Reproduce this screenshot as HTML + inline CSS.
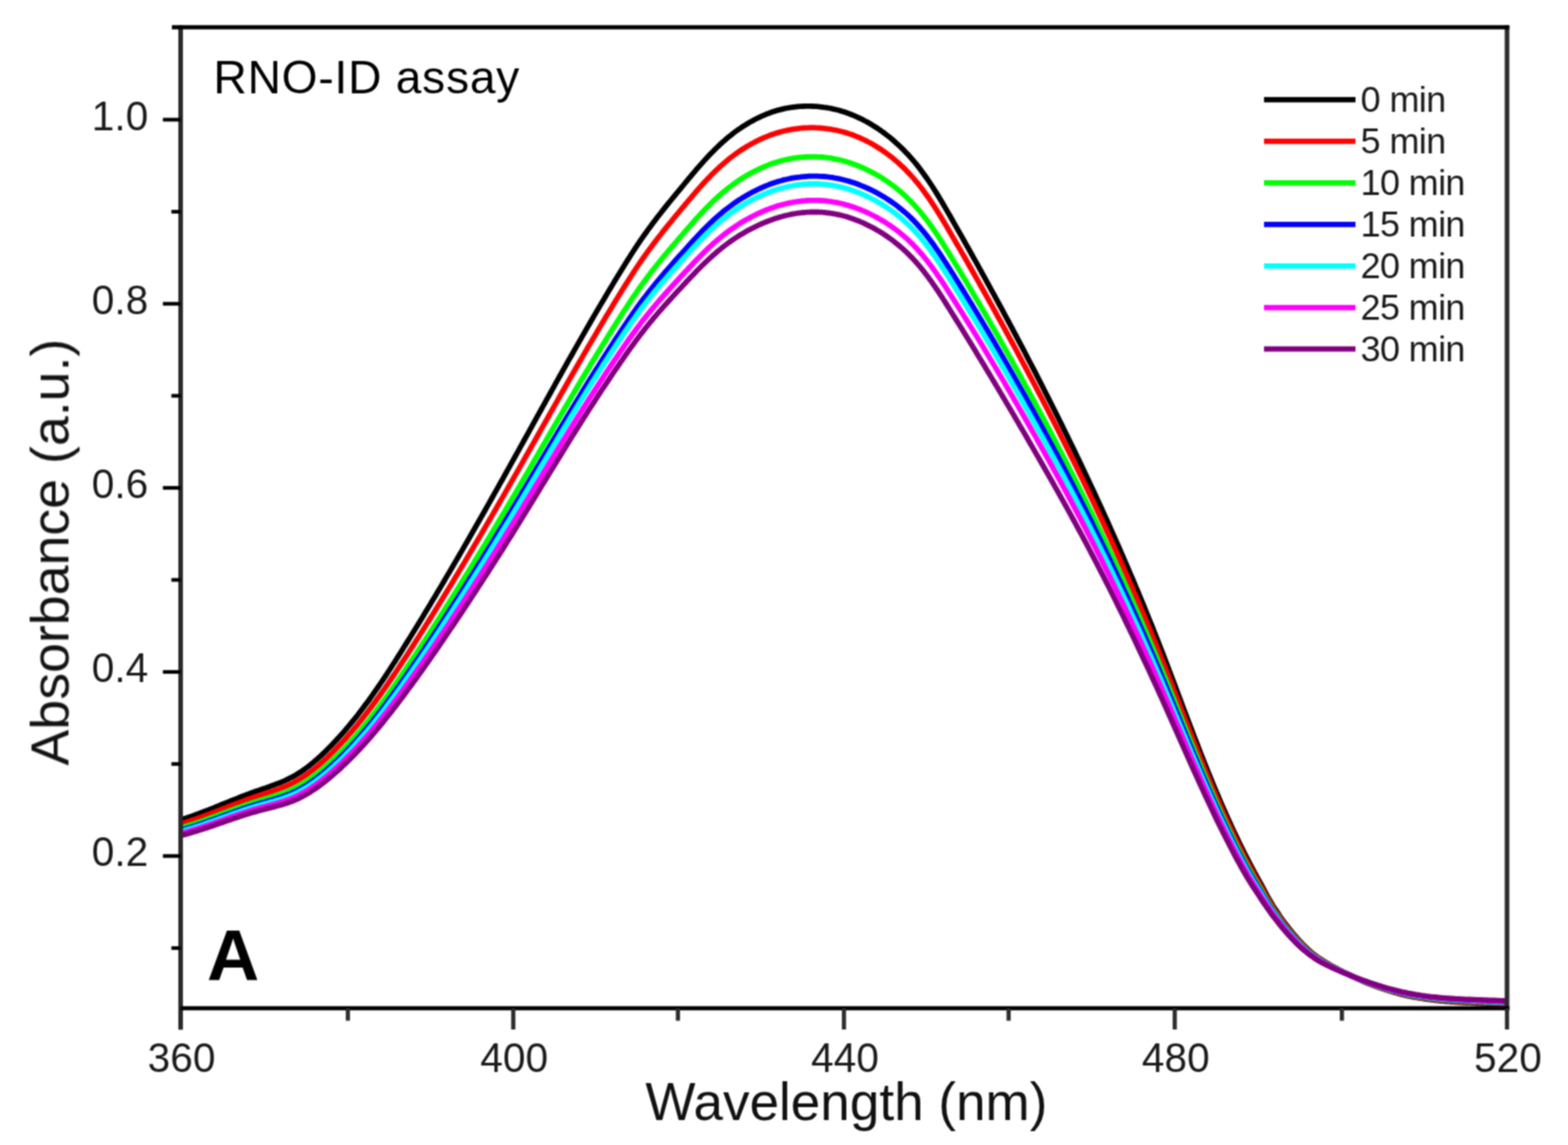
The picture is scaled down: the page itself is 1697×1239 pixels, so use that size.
<!DOCTYPE html>
<html><head><meta charset="utf-8"><title>RNO-ID assay</title><style>html,body{margin:0;padding:0;background:#fff;width:1697px;height:1239px;overflow:hidden}svg{display:block}</style></head><body>
<svg width="1697" height="1239" viewBox="0 0 1697 1239">
<rect width="1697" height="1239" fill="#ffffff"/>
<defs><filter id="soft" x="0" y="0" width="100%" height="100%" filterUnits="userSpaceOnUse" color-interpolation-filters="sRGB"><feConvolveMatrix order="3" kernelMatrix="1 2 1 2 4 2 1 2 1" divisor="16" edgeMode="duplicate"/></filter></defs>
<g filter="url(#soft)">
<defs><clipPath id="pc"><rect x="195.5" y="29.6" width="1435.5" height="1061.4"/></clipPath></defs>
<g clip-path="url(#pc)" fill="none" stroke-linejoin="round" stroke-linecap="butt">
<path d="M195.5,887.1 L197.5,886.6 L199.5,885.9 L201.5,885.3 L203.5,884.6 L205.5,883.9 L207.5,883.2 L209.5,882.5 L211.5,881.8 L213.5,881.0 L215.5,880.3 L217.5,879.5 L219.5,878.8 L221.5,878.0 L223.5,877.2 L225.5,876.5 L227.5,875.7 L229.5,874.9 L231.5,874.1 L233.5,873.3 L235.5,872.5 L237.5,871.6 L239.5,870.8 L241.5,870.0 L243.5,869.2 L245.5,868.4 L247.5,867.6 L249.5,866.8 L251.5,866.0 L253.5,865.2 L255.5,864.4 L257.5,863.6 L259.5,862.8 L261.5,862.0 L263.5,861.2 L265.5,860.5 L267.5,859.7 L269.5,859.0 L271.5,858.2 L273.5,857.5 L275.5,856.8 L277.5,856.1 L279.5,855.4 L281.5,854.7 L283.5,854.0 L285.5,853.3 L287.5,852.7 L289.5,852.0 L291.5,851.3 L293.5,850.5 L295.5,849.8 L297.5,849.1 L299.5,848.3 L301.5,847.6 L303.5,846.8 L305.5,845.9 L307.5,845.1 L309.5,844.2 L311.5,843.2 L313.5,842.2 L315.5,841.2 L317.5,840.1 L319.5,839.0 L321.5,837.8 L323.5,836.5 L325.5,835.2 L327.5,833.9 L329.5,832.5 L331.5,831.0 L333.5,829.5 L335.5,827.9 L337.5,826.3 L339.5,824.7 L341.5,822.9 L343.5,821.2 L345.5,819.4 L347.5,817.6 L349.5,815.7 L351.5,813.8 L353.5,811.8 L355.5,809.8 L357.5,807.8 L359.5,805.7 L361.5,803.6 L363.5,801.5 L365.5,799.3 L367.5,797.1 L369.5,794.8 L371.5,792.6 L373.5,790.3 L375.5,787.9 L377.5,785.5 L379.5,783.1 L381.5,780.7 L383.5,778.2 L385.5,775.7 L387.5,773.2 L389.5,770.6 L391.5,768.0 L393.5,765.3 L395.5,762.6 L397.5,759.9 L399.5,757.2 L401.5,754.4 L403.5,751.6 L405.5,748.7 L407.5,745.9 L409.5,743.0 L411.5,740.0 L413.5,737.1 L415.5,734.1 L417.5,731.1 L419.5,728.0 L421.5,725.0 L423.5,721.9 L425.5,718.8 L427.5,715.7 L429.5,712.5 L431.5,709.4 L433.5,706.2 L435.5,703.0 L437.5,699.8 L439.5,696.6 L441.5,693.4 L443.5,690.2 L445.5,687.0 L447.5,683.7 L449.5,680.5 L451.5,677.2 L453.5,673.9 L455.5,670.7 L457.5,667.4 L459.5,664.1 L461.5,660.8 L463.5,657.5 L465.5,654.2 L467.5,650.8 L469.5,647.5 L471.5,644.2 L473.5,640.8 L475.5,637.5 L477.5,634.1 L479.5,630.7 L481.5,627.3 L483.5,623.9 L485.5,620.6 L487.5,617.1 L489.5,613.7 L491.5,610.3 L493.5,606.9 L495.5,603.5 L497.5,600.0 L499.5,596.6 L501.5,593.1 L503.5,589.6 L505.5,586.2 L507.5,582.7 L509.5,579.2 L511.5,575.7 L513.5,572.2 L515.5,568.7 L517.5,565.2 L519.5,561.7 L521.5,558.2 L523.5,554.7 L525.5,551.2 L527.5,547.6 L529.5,544.1 L531.5,540.5 L533.5,537.0 L535.5,533.4 L537.5,529.9 L539.5,526.3 L541.5,522.7 L543.5,519.2 L545.5,515.6 L547.5,512.0 L549.5,508.4 L551.5,504.8 L553.5,501.2 L555.5,497.6 L557.5,494.0 L559.5,490.4 L561.5,486.8 L563.5,483.2 L565.5,479.6 L567.5,476.0 L569.5,472.4 L571.5,468.8 L573.5,465.2 L575.5,461.6 L577.5,457.9 L579.5,454.3 L581.5,450.7 L583.5,447.1 L585.5,443.5 L587.5,439.9 L589.5,436.3 L591.5,432.7 L593.5,429.1 L595.5,425.5 L597.5,421.9 L599.5,418.3 L601.5,414.7 L603.5,411.1 L605.5,407.5 L607.5,404.0 L609.5,400.4 L611.5,396.8 L613.5,393.3 L615.5,389.7 L617.5,386.2 L619.5,382.7 L621.5,379.1 L623.5,375.6 L625.5,372.1 L627.5,368.6 L629.5,365.1 L631.5,361.6 L633.5,358.1 L635.5,354.6 L637.5,351.2 L639.5,347.7 L641.5,344.3 L643.5,340.9 L645.5,337.4 L647.5,334.0 L649.5,330.6 L651.5,327.2 L653.5,323.9 L655.5,320.5 L657.5,317.1 L659.5,313.8 L661.5,310.5 L663.5,307.1 L665.5,303.8 L667.5,300.5 L669.5,297.2 L671.5,294.0 L673.5,290.7 L675.5,287.5 L677.5,284.3 L679.5,281.1 L681.5,278.0 L683.5,274.8 L685.5,271.7 L687.5,268.7 L689.5,265.7 L691.5,262.7 L693.5,259.7 L695.5,256.8 L697.5,254.0 L699.5,251.2 L701.5,248.4 L703.5,245.7 L705.5,243.0 L707.5,240.3 L709.5,237.7 L711.5,235.1 L713.5,232.5 L715.5,229.9 L717.5,227.4 L719.5,224.9 L721.5,222.4 L723.5,219.9 L725.5,217.5 L727.5,215.0 L729.5,212.6 L731.5,210.2 L733.5,207.7 L735.5,205.3 L737.5,202.9 L739.5,200.5 L741.5,198.0 L743.5,195.6 L745.5,193.2 L747.5,190.8 L749.5,188.4 L751.5,186.1 L753.5,183.7 L755.5,181.4 L757.5,179.1 L759.5,176.8 L761.5,174.6 L763.5,172.4 L765.5,170.2 L767.5,168.1 L769.5,166.0 L771.5,164.0 L773.5,161.9 L775.5,160.0 L777.5,158.1 L779.5,156.2 L781.5,154.3 L783.5,152.6 L785.5,150.8 L787.5,149.1 L789.5,147.5 L791.5,145.9 L793.5,144.3 L795.5,142.8 L797.5,141.3 L799.5,139.9 L801.5,138.6 L803.5,137.2 L805.5,135.9 L807.5,134.7 L809.5,133.5 L811.5,132.3 L813.5,131.2 L815.5,130.1 L817.5,129.0 L819.5,128.0 L821.5,127.1 L823.5,126.1 L825.5,125.2 L827.5,124.4 L829.5,123.5 L831.5,122.8 L833.5,122.0 L835.5,121.3 L837.5,120.6 L839.5,120.0 L841.5,119.4 L843.5,118.9 L845.5,118.4 L847.5,117.9 L849.5,117.4 L851.5,117.0 L853.5,116.7 L855.5,116.3 L857.5,116.0 L859.5,115.8 L861.5,115.5 L863.5,115.3 L865.5,115.2 L867.5,115.1 L869.5,115.0 L871.5,114.9 L873.5,114.9 L875.5,114.9 L877.5,114.9 L879.5,115.0 L881.5,115.1 L883.5,115.2 L885.5,115.4 L887.5,115.6 L889.5,115.8 L891.5,116.1 L893.5,116.3 L895.5,116.7 L897.5,117.0 L899.5,117.4 L901.5,117.9 L903.5,118.3 L905.5,118.8 L907.5,119.3 L909.5,119.9 L911.5,120.5 L913.5,121.1 L915.5,121.8 L917.5,122.5 L919.5,123.2 L921.5,124.0 L923.5,124.8 L925.5,125.7 L927.5,126.6 L929.5,127.5 L931.5,128.4 L933.5,129.4 L935.5,130.5 L937.5,131.5 L939.5,132.6 L941.5,133.8 L943.5,135.0 L945.5,136.2 L947.5,137.5 L949.5,138.8 L951.5,140.1 L953.5,141.5 L955.5,143.0 L957.5,144.4 L959.5,146.0 L961.5,147.5 L963.5,149.1 L965.5,150.8 L967.5,152.5 L969.5,154.3 L971.5,156.1 L973.5,158.0 L975.5,159.9 L977.5,161.8 L979.5,163.9 L981.5,166.0 L983.5,168.1 L985.5,170.4 L987.5,172.6 L989.5,175.0 L991.5,177.4 L993.5,179.9 L995.5,182.5 L997.5,185.2 L999.5,187.9 L1001.5,190.7 L1003.5,193.5 L1005.5,196.5 L1007.5,199.5 L1009.5,202.5 L1011.5,205.7 L1013.5,208.9 L1015.5,212.1 L1017.5,215.4 L1019.5,218.8 L1021.5,222.2 L1023.5,225.6 L1025.5,229.1 L1027.5,232.5 L1029.5,236.0 L1031.5,239.6 L1033.5,243.1 L1035.5,246.6 L1037.5,250.1 L1039.5,253.6 L1041.5,257.2 L1043.5,260.7 L1045.5,264.3 L1047.5,267.8 L1049.5,271.4 L1051.5,275.0 L1053.5,278.6 L1055.5,282.1 L1057.5,285.7 L1059.5,289.3 L1061.5,292.9 L1063.5,296.6 L1065.5,300.2 L1067.5,303.8 L1069.5,307.5 L1071.5,311.1 L1073.5,314.8 L1075.5,318.4 L1077.5,322.1 L1079.5,325.8 L1081.5,329.5 L1083.5,333.1 L1085.5,336.9 L1087.5,340.6 L1089.5,344.3 L1091.5,348.0 L1093.5,351.8 L1095.5,355.5 L1097.5,359.3 L1099.5,363.0 L1101.5,366.8 L1103.5,370.6 L1105.5,374.4 L1107.5,378.2 L1109.5,382.0 L1111.5,385.8 L1113.5,389.7 L1115.5,393.5 L1117.5,397.4 L1119.5,401.2 L1121.5,405.1 L1123.5,409.0 L1125.5,412.9 L1127.5,416.8 L1129.5,420.7 L1131.5,424.7 L1133.5,428.6 L1135.5,432.6 L1137.5,436.5 L1139.5,440.5 L1141.5,444.5 L1143.5,448.5 L1145.5,452.5 L1147.5,456.6 L1149.5,460.6 L1151.5,464.7 L1153.5,468.7 L1155.5,472.8 L1157.5,476.9 L1159.5,481.0 L1161.5,485.1 L1163.5,489.3 L1165.5,493.4 L1167.5,497.6 L1169.5,501.8 L1171.5,506.0 L1173.5,510.2 L1175.5,514.4 L1177.5,518.7 L1179.5,522.9 L1181.5,527.2 L1183.5,531.5 L1185.5,535.8 L1187.5,540.1 L1189.5,544.5 L1191.5,548.8 L1193.5,553.2 L1195.5,557.6 L1197.5,562.0 L1199.5,566.5 L1201.5,570.9 L1203.5,575.4 L1205.5,579.9 L1207.5,584.4 L1209.5,588.9 L1211.5,593.5 L1213.5,598.1 L1215.5,602.7 L1217.5,607.3 L1219.5,611.9 L1221.5,616.6 L1223.5,621.3 L1225.5,626.0 L1227.5,630.7 L1229.5,635.5 L1231.5,640.2 L1233.5,645.1 L1235.5,649.9 L1237.5,654.7 L1239.5,659.6 L1241.5,664.5 L1243.5,669.5 L1245.5,674.4 L1247.5,679.4 L1249.5,684.5 L1251.5,689.5 L1253.5,694.6 L1255.5,699.7 L1257.5,704.9 L1259.5,710.1 L1261.5,715.3 L1263.5,720.5 L1265.5,725.8 L1267.5,731.0 L1269.5,736.3 L1271.5,741.6 L1273.5,746.9 L1275.5,752.2 L1277.5,757.5 L1279.5,762.9 L1281.5,768.2 L1283.5,773.5 L1285.5,778.7 L1287.5,784.0 L1289.5,789.3 L1291.5,794.5 L1293.5,799.7 L1295.5,804.9 L1297.5,810.1 L1299.5,815.2 L1301.5,820.3 L1303.5,825.3 L1305.5,830.3 L1307.5,835.3 L1309.5,840.2 L1311.5,845.1 L1313.5,850.0 L1315.5,854.8 L1317.5,859.5 L1319.5,864.2 L1321.5,868.8 L1323.5,873.4 L1325.5,878.0 L1327.5,882.5 L1329.5,886.9 L1331.5,891.3 L1333.5,895.6 L1335.5,899.9 L1337.5,904.1 L1339.5,908.3 L1341.5,912.4 L1343.5,916.5 L1345.5,920.5 L1347.5,924.5 L1349.5,928.4 L1351.5,932.3 L1353.5,936.1 L1355.5,939.8 L1357.5,943.6 L1359.5,947.2 L1361.5,950.8 L1363.5,954.4 L1365.5,958.0 L1367.5,961.9 L1369.5,965.7 L1371.5,969.4 L1373.5,972.9 L1375.5,976.3 L1377.5,979.7 L1379.5,982.9 L1381.5,985.6 L1383.5,988.6 L1385.5,992.0 L1387.5,994.7 L1389.5,997.4 L1391.5,1000.0 L1393.5,1002.6 L1395.5,1005.2 L1397.5,1007.6 L1399.5,1010.1 L1401.5,1012.4 L1403.5,1014.7 L1405.5,1016.9 L1407.5,1019.1 L1409.5,1021.2 L1411.5,1023.2 L1413.5,1025.2 L1415.5,1027.1 L1417.5,1028.9 L1419.5,1030.7 L1421.5,1032.3 L1423.5,1033.8 L1425.5,1035.3 L1427.5,1036.7 L1429.5,1038.0 L1431.5,1039.3 L1433.5,1040.6 L1435.5,1041.8 L1437.5,1042.9 L1439.5,1044.1 L1441.5,1045.2 L1443.5,1046.3 L1445.5,1047.4 L1447.5,1048.4 L1449.5,1049.5 L1451.5,1050.5 L1453.5,1051.6 L1455.5,1052.6 L1457.5,1053.5 L1459.5,1054.5 L1461.5,1055.5 L1463.5,1056.5 L1465.5,1057.4 L1467.5,1058.4 L1469.5,1059.3 L1471.5,1060.2 L1473.5,1061.1 L1475.5,1062.0 L1477.5,1062.9 L1479.5,1063.8 L1481.5,1064.6 L1483.5,1065.3 L1485.5,1066.1 L1487.5,1066.8 L1489.5,1067.5 L1491.5,1068.2 L1493.5,1068.9 L1495.5,1069.6 L1497.5,1070.3 L1499.5,1070.9 L1501.5,1071.5 L1503.5,1072.2 L1505.5,1072.8 L1507.5,1073.4 L1509.5,1074.0 L1511.5,1074.5 L1513.5,1075.1 L1515.5,1075.6 L1517.5,1076.2 L1519.5,1076.7 L1521.5,1077.2 L1523.5,1077.6 L1525.5,1078.0 L1527.5,1078.4 L1529.5,1078.8 L1531.5,1079.2 L1533.5,1079.5 L1535.5,1079.8 L1537.5,1080.2 L1539.5,1080.5 L1541.5,1080.8 L1543.5,1081.1 L1545.5,1081.3 L1547.5,1081.6 L1549.5,1081.9 L1551.5,1082.1 L1553.5,1082.3 L1555.5,1082.5 L1557.5,1082.8 L1559.5,1083.0 L1561.5,1083.1 L1563.5,1083.3 L1565.5,1083.5 L1567.5,1083.7 L1569.5,1083.8 L1571.5,1084.0 L1573.5,1084.1 L1575.5,1084.3 L1577.5,1084.4 L1579.5,1084.5 L1581.5,1084.6 L1583.5,1084.8 L1585.5,1084.9 L1587.5,1085.0 L1589.5,1085.1 L1591.5,1085.2 L1593.5,1085.3 L1595.5,1085.4 L1597.5,1085.5 L1599.5,1085.6 L1601.5,1085.7 L1603.5,1085.8 L1605.5,1085.8 L1607.5,1085.9 L1609.5,1086.0 L1611.5,1086.1 L1613.5,1086.2 L1615.5,1086.3 L1617.5,1086.4 L1619.5,1086.5 L1621.5,1086.6 L1623.5,1086.7 L1625.5,1086.8 L1627.5,1086.9 L1629.5,1087.1" stroke="#000000" stroke-width="5.8"/>
<path d="M195.5,891.5 L197.5,891.0 L199.5,890.4 L201.5,889.8 L203.5,889.1 L205.5,888.5 L207.5,887.8 L209.5,887.1 L211.5,886.4 L213.5,885.7 L215.5,885.0 L217.5,884.3 L219.5,883.6 L221.5,882.8 L223.5,882.1 L225.5,881.3 L227.5,880.6 L229.5,879.8 L231.5,879.0 L233.5,878.3 L235.5,877.5 L237.5,876.7 L239.5,875.9 L241.5,875.1 L243.5,874.4 L245.5,873.6 L247.5,872.8 L249.5,872.0 L251.5,871.3 L253.5,870.5 L255.5,869.7 L257.5,869.0 L259.5,868.2 L261.5,867.5 L263.5,866.7 L265.5,866.0 L267.5,865.3 L269.5,864.5 L271.5,863.8 L273.5,863.2 L275.5,862.5 L277.5,861.8 L279.5,861.2 L281.5,860.5 L283.5,859.9 L285.5,859.2 L287.5,858.6 L289.5,857.9 L291.5,857.3 L293.5,856.6 L295.5,856.0 L297.5,855.3 L299.5,854.6 L301.5,853.9 L303.5,853.1 L305.5,852.3 L307.5,851.6 L309.5,850.7 L311.5,849.9 L313.5,848.9 L315.5,848.0 L317.5,847.0 L319.5,845.9 L321.5,844.8 L323.5,843.6 L325.5,842.4 L327.5,841.1 L329.5,839.8 L331.5,838.4 L333.5,837.0 L335.5,835.5 L337.5,834.0 L339.5,832.4 L341.5,830.8 L343.5,829.2 L345.5,827.5 L347.5,825.7 L349.5,824.0 L351.5,822.1 L353.5,820.3 L355.5,818.4 L357.5,816.4 L359.5,814.5 L361.5,812.4 L363.5,810.4 L365.5,808.3 L367.5,806.2 L369.5,804.1 L371.5,801.9 L373.5,799.7 L375.5,797.5 L377.5,795.2 L379.5,792.9 L381.5,790.6 L383.5,788.2 L385.5,785.8 L387.5,783.4 L389.5,780.9 L391.5,778.4 L393.5,775.9 L395.5,773.3 L397.5,770.7 L399.5,768.1 L401.5,765.5 L403.5,762.8 L405.5,760.1 L407.5,757.3 L409.5,754.6 L411.5,751.8 L413.5,748.9 L415.5,746.1 L417.5,743.2 L419.5,740.3 L421.5,737.4 L423.5,734.4 L425.5,731.5 L427.5,728.5 L429.5,725.5 L431.5,722.5 L433.5,719.4 L435.5,716.4 L437.5,713.3 L439.5,710.3 L441.5,707.2 L443.5,704.1 L445.5,701.0 L447.5,697.9 L449.5,694.7 L451.5,691.6 L453.5,688.5 L455.5,685.3 L457.5,682.2 L459.5,679.0 L461.5,675.8 L463.5,672.6 L465.5,669.4 L467.5,666.2 L469.5,663.0 L471.5,659.8 L473.5,656.5 L475.5,653.3 L477.5,650.0 L479.5,646.8 L481.5,643.5 L483.5,640.2 L485.5,637.0 L487.5,633.7 L489.5,630.4 L491.5,627.1 L493.5,623.8 L495.5,620.5 L497.5,617.1 L499.5,613.8 L501.5,610.5 L503.5,607.1 L505.5,603.8 L507.5,600.4 L509.5,597.0 L511.5,593.7 L513.5,590.3 L515.5,586.9 L517.5,583.5 L519.5,580.1 L521.5,576.7 L523.5,573.3 L525.5,569.9 L527.5,566.5 L529.5,563.0 L531.5,559.6 L533.5,556.2 L535.5,552.7 L537.5,549.3 L539.5,545.8 L541.5,542.3 L543.5,538.9 L545.5,535.4 L547.5,531.9 L549.5,528.4 L551.5,524.9 L553.5,521.4 L555.5,517.9 L557.5,514.4 L559.5,510.9 L561.5,507.4 L563.5,503.9 L565.5,500.3 L567.5,496.8 L569.5,493.3 L571.5,489.7 L573.5,486.2 L575.5,482.7 L577.5,479.1 L579.5,475.6 L581.5,472.0 L583.5,468.5 L585.5,464.9 L587.5,461.4 L589.5,457.9 L591.5,454.3 L593.5,450.8 L595.5,447.2 L597.5,443.7 L599.5,440.1 L601.5,436.6 L603.5,433.1 L605.5,429.5 L607.5,426.0 L609.5,422.5 L611.5,419.0 L613.5,415.5 L615.5,412.0 L617.5,408.5 L619.5,405.0 L621.5,401.5 L623.5,398.0 L625.5,394.5 L627.5,391.0 L629.5,387.6 L631.5,384.1 L633.5,380.7 L635.5,377.2 L637.5,373.8 L639.5,370.4 L641.5,367.0 L643.5,363.6 L645.5,360.2 L647.5,356.8 L649.5,353.4 L651.5,350.0 L653.5,346.7 L655.5,343.3 L657.5,340.0 L659.5,336.7 L661.5,333.4 L663.5,330.1 L665.5,326.8 L667.5,323.5 L669.5,320.3 L671.5,317.0 L673.5,313.8 L675.5,310.6 L677.5,307.4 L679.5,304.2 L681.5,301.1 L683.5,298.0 L685.5,294.9 L687.5,291.8 L689.5,288.8 L691.5,285.9 L693.5,282.9 L695.5,280.0 L697.5,277.2 L699.5,274.4 L701.5,271.6 L703.5,268.9 L705.5,266.2 L707.5,263.5 L709.5,260.9 L711.5,258.3 L713.5,255.7 L715.5,253.2 L717.5,250.6 L719.5,248.1 L721.5,245.6 L723.5,243.2 L725.5,240.7 L727.5,238.3 L729.5,235.8 L731.5,233.4 L733.5,231.0 L735.5,228.6 L737.5,226.2 L739.5,223.8 L741.5,221.4 L743.5,219.0 L745.5,216.6 L747.5,214.3 L749.5,211.9 L751.5,209.6 L753.5,207.2 L755.5,205.0 L757.5,202.7 L759.5,200.5 L761.5,198.2 L763.5,196.1 L765.5,193.9 L767.5,191.9 L769.5,189.8 L771.5,187.8 L773.5,185.8 L775.5,183.9 L777.5,182.0 L779.5,180.2 L781.5,178.4 L783.5,176.6 L785.5,174.9 L787.5,173.2 L789.5,171.6 L791.5,170.0 L793.5,168.5 L795.5,167.0 L797.5,165.6 L799.5,164.2 L801.5,162.8 L803.5,161.5 L805.5,160.2 L807.5,159.0 L809.5,157.8 L811.5,156.7 L813.5,155.5 L815.5,154.5 L817.5,153.4 L819.5,152.4 L821.5,151.4 L823.5,150.5 L825.5,149.6 L827.5,148.7 L829.5,147.9 L831.5,147.1 L833.5,146.3 L835.5,145.6 L837.5,144.9 L839.5,144.3 L841.5,143.6 L843.5,143.1 L845.5,142.5 L847.5,142.0 L849.5,141.5 L851.5,141.1 L853.5,140.7 L855.5,140.3 L857.5,139.9 L859.5,139.6 L861.5,139.3 L863.5,139.1 L865.5,138.9 L867.5,138.7 L869.5,138.5 L871.5,138.4 L873.5,138.3 L875.5,138.2 L877.5,138.2 L879.5,138.2 L881.5,138.2 L883.5,138.3 L885.5,138.4 L887.5,138.5 L889.5,138.7 L891.5,138.9 L893.5,139.1 L895.5,139.3 L897.5,139.6 L899.5,139.9 L901.5,140.3 L903.5,140.6 L905.5,141.0 L907.5,141.5 L909.5,142.0 L911.5,142.5 L913.5,143.0 L915.5,143.6 L917.5,144.2 L919.5,144.9 L921.5,145.6 L923.5,146.3 L925.5,147.1 L927.5,147.9 L929.5,148.7 L931.5,149.6 L933.5,150.5 L935.5,151.5 L937.5,152.4 L939.5,153.5 L941.5,154.5 L943.5,155.6 L945.5,156.8 L947.5,158.0 L949.5,159.2 L951.5,160.5 L953.5,161.8 L955.5,163.1 L957.5,164.5 L959.5,166.0 L961.5,167.5 L963.5,169.0 L965.5,170.6 L967.5,172.2 L969.5,173.9 L971.5,175.6 L973.5,177.4 L975.5,179.3 L977.5,181.2 L979.5,183.1 L981.5,185.2 L983.5,187.3 L985.5,189.4 L987.5,191.6 L989.5,193.9 L991.5,196.3 L993.5,198.7 L995.5,201.2 L997.5,203.8 L999.5,206.5 L1001.5,209.2 L1003.5,212.0 L1005.5,214.8 L1007.5,217.8 L1009.5,220.8 L1011.5,223.9 L1013.5,227.0 L1015.5,230.2 L1017.5,233.4 L1019.5,236.7 L1021.5,240.0 L1023.5,243.4 L1025.5,246.8 L1027.5,250.2 L1029.5,253.6 L1031.5,257.1 L1033.5,260.5 L1035.5,264.0 L1037.5,267.4 L1039.5,270.9 L1041.5,274.4 L1043.5,277.8 L1045.5,281.3 L1047.5,284.8 L1049.5,288.3 L1051.5,291.8 L1053.5,295.3 L1055.5,298.9 L1057.5,302.4 L1059.5,305.9 L1061.5,309.5 L1063.5,313.0 L1065.5,316.6 L1067.5,320.2 L1069.5,323.7 L1071.5,327.3 L1073.5,330.9 L1075.5,334.5 L1077.5,338.1 L1079.5,341.8 L1081.5,345.4 L1083.5,349.0 L1085.5,352.7 L1087.5,356.3 L1089.5,360.0 L1091.5,363.6 L1093.5,367.3 L1095.5,371.0 L1097.5,374.7 L1099.5,378.4 L1101.5,382.1 L1103.5,385.8 L1105.5,389.6 L1107.5,393.3 L1109.5,397.0 L1111.5,400.8 L1113.5,404.6 L1115.5,408.3 L1117.5,412.1 L1119.5,415.9 L1121.5,419.7 L1123.5,423.6 L1125.5,427.4 L1127.5,431.2 L1129.5,435.1 L1131.5,438.9 L1133.5,442.8 L1135.5,446.7 L1137.5,450.6 L1139.5,454.5 L1141.5,458.4 L1143.5,462.3 L1145.5,466.2 L1147.5,470.2 L1149.5,474.2 L1151.5,478.1 L1153.5,482.1 L1155.5,486.1 L1157.5,490.1 L1159.5,494.2 L1161.5,498.2 L1163.5,502.3 L1165.5,506.3 L1167.5,510.4 L1169.5,514.5 L1171.5,518.6 L1173.5,522.8 L1175.5,526.9 L1177.5,531.1 L1179.5,535.3 L1181.5,539.5 L1183.5,543.7 L1185.5,547.9 L1187.5,552.2 L1189.5,556.4 L1191.5,560.7 L1193.5,565.0 L1195.5,569.3 L1197.5,573.7 L1199.5,578.0 L1201.5,582.4 L1203.5,586.8 L1205.5,591.2 L1207.5,595.6 L1209.5,600.1 L1211.5,604.5 L1213.5,609.0 L1215.5,613.5 L1217.5,618.1 L1219.5,622.6 L1221.5,627.2 L1223.5,631.8 L1225.5,636.4 L1227.5,641.0 L1229.5,645.7 L1231.5,650.4 L1233.5,655.1 L1235.5,659.8 L1237.5,664.6 L1239.5,669.4 L1241.5,674.2 L1243.5,679.0 L1245.5,683.9 L1247.5,688.8 L1249.5,693.7 L1251.5,698.6 L1253.5,703.6 L1255.5,708.6 L1257.5,713.6 L1259.5,718.7 L1261.5,723.7 L1263.5,728.8 L1265.5,734.0 L1267.5,739.1 L1269.5,744.3 L1271.5,749.4 L1273.5,754.6 L1275.5,759.8 L1277.5,764.9 L1279.5,770.1 L1281.5,775.3 L1283.5,780.5 L1285.5,785.6 L1287.5,790.7 L1289.5,795.9 L1291.5,801.0 L1293.5,806.0 L1295.5,811.1 L1297.5,816.1 L1299.5,821.1 L1301.5,826.1 L1303.5,831.0 L1305.5,835.9 L1307.5,840.8 L1309.5,845.6 L1311.5,850.3 L1313.5,855.1 L1315.5,859.8 L1317.5,864.4 L1319.5,869.0 L1321.5,873.6 L1323.5,878.0 L1325.5,882.5 L1327.5,886.9 L1329.5,891.2 L1331.5,895.5 L1333.5,899.8 L1335.5,904.0 L1337.5,908.1 L1339.5,912.2 L1341.5,916.3 L1343.5,920.3 L1345.5,924.2 L1347.5,928.1 L1349.5,931.9 L1351.5,935.7 L1353.5,939.4 L1355.5,943.0 L1357.5,946.6 L1359.5,950.2 L1361.5,953.7 L1363.5,957.2 L1365.5,960.7 L1367.5,964.4 L1369.5,968.1 L1371.5,971.6 L1373.5,975.0 L1375.5,978.3 L1377.5,981.6 L1379.5,984.7 L1381.5,987.4 L1383.5,990.3 L1385.5,993.5 L1387.5,996.2 L1389.5,998.9 L1391.5,1001.5 L1393.5,1004.0 L1395.5,1006.5 L1397.5,1008.9 L1399.5,1011.3 L1401.5,1013.6 L1403.5,1015.8 L1405.5,1018.0 L1407.5,1020.1 L1409.5,1022.1 L1411.5,1024.1 L1413.5,1026.0 L1415.5,1027.9 L1417.5,1029.6 L1419.5,1031.3 L1421.5,1032.9 L1423.5,1034.4 L1425.5,1035.9 L1427.5,1037.2 L1429.5,1038.6 L1431.5,1039.8 L1433.5,1041.0 L1435.5,1042.2 L1437.5,1043.3 L1439.5,1044.4 L1441.5,1045.5 L1443.5,1046.6 L1445.5,1047.6 L1447.5,1048.6 L1449.5,1049.7 L1451.5,1050.7 L1453.5,1051.7 L1455.5,1052.6 L1457.5,1053.6 L1459.5,1054.6 L1461.5,1055.5 L1463.5,1056.4 L1465.5,1057.4 L1467.5,1058.3 L1469.5,1059.2 L1471.5,1060.1 L1473.5,1061.0 L1475.5,1061.8 L1477.5,1062.7 L1479.5,1063.5 L1481.5,1064.3 L1483.5,1065.0 L1485.5,1065.8 L1487.5,1066.5 L1489.5,1067.2 L1491.5,1067.9 L1493.5,1068.6 L1495.5,1069.2 L1497.5,1069.9 L1499.5,1070.5 L1501.5,1071.2 L1503.5,1071.8 L1505.5,1072.4 L1507.5,1073.0 L1509.5,1073.5 L1511.5,1074.1 L1513.5,1074.6 L1515.5,1075.2 L1517.5,1075.7 L1519.5,1076.2 L1521.5,1076.6 L1523.5,1077.1 L1525.5,1077.5 L1527.5,1077.9 L1529.5,1078.3 L1531.5,1078.6 L1533.5,1079.0 L1535.5,1079.3 L1537.5,1079.6 L1539.5,1079.9 L1541.5,1080.2 L1543.5,1080.5 L1545.5,1080.8 L1547.5,1081.1 L1549.5,1081.3 L1551.5,1081.5 L1553.5,1081.8 L1555.5,1082.0 L1557.5,1082.2 L1559.5,1082.4 L1561.5,1082.6 L1563.5,1082.7 L1565.5,1082.9 L1567.5,1083.1 L1569.5,1083.2 L1571.5,1083.4 L1573.5,1083.5 L1575.5,1083.7 L1577.5,1083.8 L1579.5,1083.9 L1581.5,1084.0 L1583.5,1084.1 L1585.5,1084.3 L1587.5,1084.4 L1589.5,1084.5 L1591.5,1084.6 L1593.5,1084.7 L1595.5,1084.8 L1597.5,1084.8 L1599.5,1084.9 L1601.5,1085.0 L1603.5,1085.1 L1605.5,1085.2 L1607.5,1085.3 L1609.5,1085.4 L1611.5,1085.5 L1613.5,1085.6 L1615.5,1085.7 L1617.5,1085.8 L1619.5,1085.9 L1621.5,1086.0 L1623.5,1086.1 L1625.5,1086.2 L1627.5,1086.3 L1629.5,1086.4" stroke="#ff0000" stroke-width="5.8"/>
<path d="M195.5,895.7 L197.5,895.3 L199.5,894.7 L201.5,894.1 L203.5,893.5 L205.5,892.9 L207.5,892.2 L209.5,891.6 L211.5,890.9 L213.5,890.2 L215.5,889.6 L217.5,888.9 L219.5,888.2 L221.5,887.5 L223.5,886.7 L225.5,886.0 L227.5,885.3 L229.5,884.5 L231.5,883.8 L233.5,883.1 L235.5,882.3 L237.5,881.6 L239.5,880.8 L241.5,880.1 L243.5,879.3 L245.5,878.6 L247.5,877.8 L249.5,877.1 L251.5,876.3 L253.5,875.6 L255.5,874.8 L257.5,874.1 L259.5,873.4 L261.5,872.7 L263.5,872.0 L265.5,871.3 L267.5,870.6 L269.5,869.9 L271.5,869.2 L273.5,868.6 L275.5,867.9 L277.5,867.3 L279.5,866.7 L281.5,866.1 L283.5,865.5 L285.5,864.9 L287.5,864.3 L289.5,863.7 L291.5,863.1 L293.5,862.5 L295.5,861.8 L297.5,861.2 L299.5,860.6 L301.5,859.9 L303.5,859.2 L305.5,858.5 L307.5,857.8 L309.5,857.0 L311.5,856.2 L313.5,855.4 L315.5,854.5 L317.5,853.6 L319.5,852.6 L321.5,851.5 L323.5,850.5 L325.5,849.3 L327.5,848.1 L329.5,846.9 L331.5,845.6 L333.5,844.2 L335.5,842.9 L337.5,841.4 L339.5,839.9 L341.5,838.4 L343.5,836.9 L345.5,835.2 L347.5,833.6 L349.5,831.9 L351.5,830.2 L353.5,828.4 L355.5,826.6 L357.5,824.7 L359.5,822.9 L361.5,820.9 L363.5,819.0 L365.5,817.0 L367.5,815.0 L369.5,813.0 L371.5,810.9 L373.5,808.8 L375.5,806.7 L377.5,804.5 L379.5,802.3 L381.5,800.1 L383.5,797.8 L385.5,795.5 L387.5,793.2 L389.5,790.9 L391.5,788.5 L393.5,786.1 L395.5,783.6 L397.5,781.2 L399.5,778.7 L401.5,776.1 L403.5,773.6 L405.5,771.0 L407.5,768.4 L409.5,765.7 L411.5,763.1 L413.5,760.4 L415.5,757.7 L417.5,754.9 L419.5,752.1 L421.5,749.3 L423.5,746.5 L425.5,743.7 L427.5,740.8 L429.5,738.0 L431.5,735.1 L433.5,732.2 L435.5,729.2 L437.5,726.3 L439.5,723.4 L441.5,720.4 L443.5,717.4 L445.5,714.5 L447.5,711.5 L449.5,708.5 L451.5,705.4 L453.5,702.4 L455.5,699.4 L457.5,696.3 L459.5,693.3 L461.5,690.2 L463.5,687.2 L465.5,684.1 L467.5,681.0 L469.5,677.9 L471.5,674.8 L473.5,671.6 L475.5,668.5 L477.5,665.4 L479.5,662.2 L481.5,659.1 L483.5,655.9 L485.5,652.8 L487.5,649.6 L489.5,646.4 L491.5,643.2 L493.5,640.0 L495.5,636.8 L497.5,633.6 L499.5,630.4 L501.5,627.1 L503.5,623.9 L505.5,620.7 L507.5,617.4 L509.5,614.2 L511.5,610.9 L513.5,607.6 L515.5,604.4 L517.5,601.1 L519.5,597.8 L521.5,594.5 L523.5,591.2 L525.5,587.9 L527.5,584.6 L529.5,581.3 L531.5,577.9 L533.5,574.6 L535.5,571.3 L537.5,567.9 L539.5,564.6 L541.5,561.2 L543.5,557.8 L545.5,554.5 L547.5,551.1 L549.5,547.7 L551.5,544.3 L553.5,540.9 L555.5,537.5 L557.5,534.1 L559.5,530.7 L561.5,527.3 L563.5,523.9 L565.5,520.4 L567.5,517.0 L569.5,513.6 L571.5,510.1 L573.5,506.7 L575.5,503.2 L577.5,499.8 L579.5,496.3 L581.5,492.9 L583.5,489.4 L585.5,486.0 L587.5,482.5 L589.5,479.1 L591.5,475.6 L593.5,472.2 L595.5,468.7 L597.5,465.3 L599.5,461.8 L601.5,458.4 L603.5,454.9 L605.5,451.5 L607.5,448.1 L609.5,444.6 L611.5,441.2 L613.5,437.8 L615.5,434.4 L617.5,431.0 L619.5,427.6 L621.5,424.2 L623.5,420.8 L625.5,417.4 L627.5,414.1 L629.5,410.7 L631.5,407.4 L633.5,404.0 L635.5,400.7 L637.5,397.4 L639.5,394.1 L641.5,390.8 L643.5,387.5 L645.5,384.2 L647.5,380.9 L649.5,377.7 L651.5,374.4 L653.5,371.2 L655.5,367.9 L657.5,364.7 L659.5,361.5 L661.5,358.3 L663.5,355.1 L665.5,352.0 L667.5,348.8 L669.5,345.7 L671.5,342.5 L673.5,339.4 L675.5,336.3 L677.5,333.3 L679.5,330.2 L681.5,327.2 L683.5,324.2 L685.5,321.2 L687.5,318.3 L689.5,315.4 L691.5,312.5 L693.5,309.7 L695.5,306.9 L697.5,304.2 L699.5,301.5 L701.5,298.8 L703.5,296.2 L705.5,293.6 L707.5,291.0 L709.5,288.5 L711.5,286.0 L713.5,283.5 L715.5,281.0 L717.5,278.6 L719.5,276.2 L721.5,273.8 L723.5,271.4 L725.5,269.1 L727.5,266.7 L729.5,264.4 L731.5,262.0 L733.5,259.7 L735.5,257.4 L737.5,255.1 L739.5,252.8 L741.5,250.4 L743.5,248.1 L745.5,245.8 L747.5,243.6 L749.5,241.3 L751.5,239.0 L753.5,236.8 L755.5,234.6 L757.5,232.4 L759.5,230.3 L761.5,228.2 L763.5,226.1 L765.5,224.0 L767.5,222.0 L769.5,220.0 L771.5,218.1 L773.5,216.2 L775.5,214.3 L777.5,212.5 L779.5,210.8 L781.5,209.0 L783.5,207.3 L785.5,205.7 L787.5,204.1 L789.5,202.5 L791.5,201.0 L793.5,199.5 L795.5,198.1 L797.5,196.7 L799.5,195.3 L801.5,194.0 L803.5,192.7 L805.5,191.5 L807.5,190.3 L809.5,189.1 L811.5,188.0 L813.5,186.9 L815.5,185.9 L817.5,184.8 L819.5,183.8 L821.5,182.9 L823.5,182.0 L825.5,181.1 L827.5,180.2 L829.5,179.4 L831.5,178.6 L833.5,177.8 L835.5,177.1 L837.5,176.4 L839.5,175.8 L841.5,175.2 L843.5,174.6 L845.5,174.0 L847.5,173.5 L849.5,173.0 L851.5,172.6 L853.5,172.2 L855.5,171.8 L857.5,171.4 L859.5,171.1 L861.5,170.8 L863.5,170.5 L865.5,170.3 L867.5,170.1 L869.5,170.0 L871.5,169.8 L873.5,169.7 L875.5,169.7 L877.5,169.6 L879.5,169.6 L881.5,169.6 L883.5,169.7 L885.5,169.8 L887.5,169.9 L889.5,170.0 L891.5,170.2 L893.5,170.4 L895.5,170.7 L897.5,170.9 L899.5,171.2 L901.5,171.6 L903.5,172.0 L905.5,172.4 L907.5,172.8 L909.5,173.3 L911.5,173.8 L913.5,174.3 L915.5,174.9 L917.5,175.5 L919.5,176.1 L921.5,176.8 L923.5,177.5 L925.5,178.2 L927.5,179.0 L929.5,179.8 L931.5,180.6 L933.5,181.5 L935.5,182.4 L937.5,183.3 L939.5,184.3 L941.5,185.3 L943.5,186.3 L945.5,187.4 L947.5,188.5 L949.5,189.6 L951.5,190.8 L953.5,192.0 L955.5,193.3 L957.5,194.6 L959.5,195.9 L961.5,197.3 L963.5,198.7 L965.5,200.2 L967.5,201.7 L969.5,203.3 L971.5,204.9 L973.5,206.5 L975.5,208.2 L977.5,210.0 L979.5,211.8 L981.5,213.7 L983.5,215.7 L985.5,217.7 L987.5,219.7 L989.5,221.9 L991.5,224.1 L993.5,226.4 L995.5,228.7 L997.5,231.1 L999.5,233.6 L1001.5,236.2 L1003.5,238.8 L1005.5,241.5 L1007.5,244.3 L1009.5,247.1 L1011.5,250.0 L1013.5,252.9 L1015.5,255.9 L1017.5,259.0 L1019.5,262.1 L1021.5,265.3 L1023.5,268.5 L1025.5,271.7 L1027.5,274.9 L1029.5,278.2 L1031.5,281.5 L1033.5,284.8 L1035.5,288.0 L1037.5,291.3 L1039.5,294.6 L1041.5,298.0 L1043.5,301.3 L1045.5,304.6 L1047.5,308.0 L1049.5,311.3 L1051.5,314.7 L1053.5,318.1 L1055.5,321.4 L1057.5,324.8 L1059.5,328.2 L1061.5,331.6 L1063.5,335.1 L1065.5,338.5 L1067.5,341.9 L1069.5,345.4 L1071.5,348.9 L1073.5,352.3 L1075.5,355.8 L1077.5,359.3 L1079.5,362.8 L1081.5,366.3 L1083.5,369.9 L1085.5,373.4 L1087.5,377.0 L1089.5,380.5 L1091.5,384.1 L1093.5,387.6 L1095.5,391.2 L1097.5,394.8 L1099.5,398.4 L1101.5,402.0 L1103.5,405.7 L1105.5,409.3 L1107.5,412.9 L1109.5,416.6 L1111.5,420.3 L1113.5,423.9 L1115.5,427.6 L1117.5,431.3 L1119.5,435.0 L1121.5,438.7 L1123.5,442.4 L1125.5,446.1 L1127.5,449.9 L1129.5,453.6 L1131.5,457.4 L1133.5,461.2 L1135.5,464.9 L1137.5,468.7 L1139.5,472.5 L1141.5,476.3 L1143.5,480.2 L1145.5,484.0 L1147.5,487.8 L1149.5,491.7 L1151.5,495.6 L1153.5,499.5 L1155.5,503.4 L1157.5,507.3 L1159.5,511.2 L1161.5,515.1 L1163.5,519.1 L1165.5,523.0 L1167.5,527.0 L1169.5,531.0 L1171.5,535.0 L1173.5,539.1 L1175.5,543.1 L1177.5,547.2 L1179.5,551.2 L1181.5,555.3 L1183.5,559.4 L1185.5,563.6 L1187.5,567.7 L1189.5,571.9 L1191.5,576.0 L1193.5,580.2 L1195.5,584.5 L1197.5,588.7 L1199.5,592.9 L1201.5,597.2 L1203.5,601.5 L1205.5,605.8 L1207.5,610.1 L1209.5,614.5 L1211.5,618.8 L1213.5,623.2 L1215.5,627.6 L1217.5,632.0 L1219.5,636.5 L1221.5,640.9 L1223.5,645.4 L1225.5,649.9 L1227.5,654.4 L1229.5,659.0 L1231.5,663.5 L1233.5,668.1 L1235.5,672.7 L1237.5,677.3 L1239.5,682.0 L1241.5,686.7 L1243.5,691.3 L1245.5,696.1 L1247.5,700.8 L1249.5,705.6 L1251.5,710.4 L1253.5,715.2 L1255.5,720.0 L1257.5,724.9 L1259.5,729.8 L1261.5,734.7 L1263.5,739.6 L1265.5,744.6 L1267.5,749.5 L1269.5,754.5 L1271.5,759.5 L1273.5,764.5 L1275.5,769.5 L1277.5,774.5 L1279.5,779.5 L1281.5,784.5 L1283.5,789.5 L1285.5,794.5 L1287.5,799.4 L1289.5,804.4 L1291.5,809.3 L1293.5,814.2 L1295.5,819.1 L1297.5,824.0 L1299.5,828.8 L1301.5,833.6 L1303.5,838.4 L1305.5,843.1 L1307.5,847.8 L1309.5,852.5 L1311.5,857.1 L1313.5,861.7 L1315.5,866.2 L1317.5,870.8 L1319.5,875.2 L1321.5,879.6 L1323.5,884.0 L1325.5,888.3 L1327.5,892.6 L1329.5,896.8 L1331.5,901.0 L1333.5,905.1 L1335.5,909.2 L1337.5,913.3 L1339.5,917.3 L1341.5,921.2 L1343.5,925.1 L1345.5,928.9 L1347.5,932.7 L1349.5,936.4 L1351.5,940.1 L1353.5,943.7 L1355.5,947.2 L1357.5,950.6 L1359.5,954.0 L1361.5,957.4 L1363.5,960.8 L1365.5,964.2 L1367.5,967.7 L1369.5,971.2 L1371.5,974.5 L1373.5,977.8 L1375.5,981.0 L1377.5,984.0 L1379.5,987.0 L1381.5,989.7 L1383.5,992.5 L1385.5,995.5 L1387.5,998.2 L1389.5,1000.7 L1391.5,1003.3 L1393.5,1005.7 L1395.5,1008.2 L1397.5,1010.5 L1399.5,1012.8 L1401.5,1015.1 L1403.5,1017.2 L1405.5,1019.3 L1407.5,1021.4 L1409.5,1023.4 L1411.5,1025.3 L1413.5,1027.1 L1415.5,1028.9 L1417.5,1030.6 L1419.5,1032.2 L1421.5,1033.8 L1423.5,1035.2 L1425.5,1036.6 L1427.5,1038.0 L1429.5,1039.2 L1431.5,1040.4 L1433.5,1041.6 L1435.5,1042.7 L1437.5,1043.8 L1439.5,1044.9 L1441.5,1045.9 L1443.5,1046.9 L1445.5,1047.9 L1447.5,1048.9 L1449.5,1049.9 L1451.5,1050.9 L1453.5,1051.8 L1455.5,1052.8 L1457.5,1053.7 L1459.5,1054.6 L1461.5,1055.5 L1463.5,1056.4 L1465.5,1057.3 L1467.5,1058.2 L1469.5,1059.0 L1471.5,1059.9 L1473.5,1060.7 L1475.5,1061.6 L1477.5,1062.4 L1479.5,1063.2 L1481.5,1063.9 L1483.5,1064.7 L1485.5,1065.4 L1487.5,1066.1 L1489.5,1066.8 L1491.5,1067.5 L1493.5,1068.1 L1495.5,1068.8 L1497.5,1069.4 L1499.5,1070.0 L1501.5,1070.6 L1503.5,1071.2 L1505.5,1071.8 L1507.5,1072.4 L1509.5,1073.0 L1511.5,1073.5 L1513.5,1074.0 L1515.5,1074.5 L1517.5,1075.0 L1519.5,1075.5 L1521.5,1076.0 L1523.5,1076.4 L1525.5,1076.8 L1527.5,1077.2 L1529.5,1077.6 L1531.5,1077.9 L1533.5,1078.3 L1535.5,1078.6 L1537.5,1078.9 L1539.5,1079.3 L1541.5,1079.5 L1543.5,1079.8 L1545.5,1080.1 L1547.5,1080.3 L1549.5,1080.6 L1551.5,1080.8 L1553.5,1081.0 L1555.5,1081.3 L1557.5,1081.5 L1559.5,1081.6 L1561.5,1081.8 L1563.5,1082.0 L1565.5,1082.2 L1567.5,1082.3 L1569.5,1082.5 L1571.5,1082.6 L1573.5,1082.8 L1575.5,1082.9 L1577.5,1083.0 L1579.5,1083.1 L1581.5,1083.3 L1583.5,1083.4 L1585.5,1083.5 L1587.5,1083.6 L1589.5,1083.7 L1591.5,1083.8 L1593.5,1083.9 L1595.5,1083.9 L1597.5,1084.0 L1599.5,1084.1 L1601.5,1084.2 L1603.5,1084.3 L1605.5,1084.4 L1607.5,1084.5 L1609.5,1084.6 L1611.5,1084.6 L1613.5,1084.7 L1615.5,1084.8 L1617.5,1084.9 L1619.5,1085.0 L1621.5,1085.1 L1623.5,1085.2 L1625.5,1085.3 L1627.5,1085.4 L1629.5,1085.5" stroke="#00ff00" stroke-width="5.8"/>
<path d="M195.5,898.3 L197.5,897.9 L199.5,897.3 L201.5,896.7 L203.5,896.1 L205.5,895.5 L207.5,894.9 L209.5,894.2 L211.5,893.6 L213.5,892.9 L215.5,892.3 L217.5,891.6 L219.5,890.9 L221.5,890.2 L223.5,889.5 L225.5,888.8 L227.5,888.1 L229.5,887.4 L231.5,886.7 L233.5,886.0 L235.5,885.2 L237.5,884.5 L239.5,883.8 L241.5,883.0 L243.5,882.3 L245.5,881.6 L247.5,880.8 L249.5,880.1 L251.5,879.4 L253.5,878.6 L255.5,877.9 L257.5,877.2 L259.5,876.5 L261.5,875.8 L263.5,875.1 L265.5,874.4 L267.5,873.8 L269.5,873.1 L271.5,872.5 L273.5,871.8 L275.5,871.2 L277.5,870.6 L279.5,870.0 L281.5,869.4 L283.5,868.8 L285.5,868.3 L287.5,867.7 L289.5,867.1 L291.5,866.5 L293.5,866.0 L295.5,865.4 L297.5,864.8 L299.5,864.2 L301.5,863.5 L303.5,862.9 L305.5,862.2 L307.5,861.5 L309.5,860.8 L311.5,860.1 L313.5,859.3 L315.5,858.4 L317.5,857.5 L319.5,856.6 L321.5,855.6 L323.5,854.5 L325.5,853.5 L327.5,852.3 L329.5,851.1 L331.5,849.9 L333.5,848.6 L335.5,847.2 L337.5,845.9 L339.5,844.4 L341.5,843.0 L343.5,841.5 L345.5,839.9 L347.5,838.3 L349.5,836.7 L351.5,835.0 L353.5,833.3 L355.5,831.5 L357.5,829.7 L359.5,827.9 L361.5,826.0 L363.5,824.2 L365.5,822.2 L367.5,820.3 L369.5,818.3 L371.5,816.3 L373.5,814.3 L375.5,812.2 L377.5,810.1 L379.5,808.0 L381.5,805.8 L383.5,803.6 L385.5,801.4 L387.5,799.1 L389.5,796.8 L391.5,794.5 L393.5,792.2 L395.5,789.8 L397.5,787.4 L399.5,785.0 L401.5,782.5 L403.5,780.1 L405.5,777.5 L407.5,775.0 L409.5,772.4 L411.5,769.8 L413.5,767.2 L415.5,764.6 L417.5,761.9 L419.5,759.2 L421.5,756.5 L423.5,753.8 L425.5,751.0 L427.5,748.2 L429.5,745.4 L431.5,742.6 L433.5,739.8 L435.5,737.0 L437.5,734.1 L439.5,731.2 L441.5,728.3 L443.5,725.4 L445.5,722.5 L447.5,719.6 L449.5,716.7 L451.5,713.8 L453.5,710.8 L455.5,707.8 L457.5,704.9 L459.5,701.9 L461.5,698.9 L463.5,695.9 L465.5,692.9 L467.5,689.8 L469.5,686.8 L471.5,683.8 L473.5,680.7 L475.5,677.6 L477.5,674.6 L479.5,671.5 L481.5,668.4 L483.5,665.3 L485.5,662.2 L487.5,659.1 L489.5,656.0 L491.5,652.9 L493.5,649.7 L495.5,646.6 L497.5,643.5 L499.5,640.3 L501.5,637.1 L503.5,634.0 L505.5,630.8 L507.5,627.6 L509.5,624.4 L511.5,621.3 L513.5,618.1 L515.5,614.8 L517.5,611.6 L519.5,608.4 L521.5,605.2 L523.5,602.0 L525.5,598.7 L527.5,595.5 L529.5,592.2 L531.5,589.0 L533.5,585.7 L535.5,582.4 L537.5,579.1 L539.5,575.9 L541.5,572.6 L543.5,569.3 L545.5,565.9 L547.5,562.6 L549.5,559.3 L551.5,556.0 L553.5,552.7 L555.5,549.3 L557.5,546.0 L559.5,542.6 L561.5,539.3 L563.5,535.9 L565.5,532.5 L567.5,529.2 L569.5,525.8 L571.5,522.4 L573.5,519.0 L575.5,515.6 L577.5,512.3 L579.5,508.9 L581.5,505.5 L583.5,502.1 L585.5,498.7 L587.5,495.3 L589.5,491.9 L591.5,488.6 L593.5,485.2 L595.5,481.8 L597.5,478.4 L599.5,475.0 L601.5,471.7 L603.5,468.3 L605.5,464.9 L607.5,461.6 L609.5,458.2 L611.5,454.9 L613.5,451.5 L615.5,448.2 L617.5,444.9 L619.5,441.6 L621.5,438.3 L623.5,435.0 L625.5,431.7 L627.5,428.4 L629.5,425.1 L631.5,421.9 L633.5,418.6 L635.5,415.4 L637.5,412.1 L639.5,408.9 L641.5,405.7 L643.5,402.5 L645.5,399.3 L647.5,396.2 L649.5,393.0 L651.5,389.9 L653.5,386.7 L655.5,383.6 L657.5,380.5 L659.5,377.4 L661.5,374.3 L663.5,371.2 L665.5,368.1 L667.5,365.1 L669.5,362.1 L671.5,359.0 L673.5,356.0 L675.5,353.0 L677.5,350.1 L679.5,347.1 L681.5,344.2 L683.5,341.3 L685.5,338.4 L687.5,335.6 L689.5,332.8 L691.5,330.1 L693.5,327.3 L695.5,324.6 L697.5,322.0 L699.5,319.4 L701.5,316.8 L703.5,314.3 L705.5,311.8 L707.5,309.3 L709.5,306.8 L711.5,304.4 L713.5,302.0 L715.5,299.7 L717.5,297.3 L719.5,295.0 L721.5,292.7 L723.5,290.4 L725.5,288.1 L727.5,285.8 L729.5,283.5 L731.5,281.3 L733.5,279.0 L735.5,276.8 L737.5,274.6 L739.5,272.3 L741.5,270.1 L743.5,267.9 L745.5,265.6 L747.5,263.4 L749.5,261.2 L751.5,259.1 L753.5,256.9 L755.5,254.8 L757.5,252.7 L759.5,250.6 L761.5,248.5 L763.5,246.5 L765.5,244.5 L767.5,242.6 L769.5,240.7 L771.5,238.8 L773.5,236.9 L775.5,235.1 L777.5,233.4 L779.5,231.7 L781.5,230.0 L783.5,228.3 L785.5,226.7 L787.5,225.2 L789.5,223.7 L791.5,222.2 L793.5,220.7 L795.5,219.3 L797.5,218.0 L799.5,216.6 L801.5,215.4 L803.5,214.1 L805.5,212.9 L807.5,211.7 L809.5,210.6 L811.5,209.5 L813.5,208.4 L815.5,207.3 L817.5,206.3 L819.5,205.3 L821.5,204.4 L823.5,203.5 L825.5,202.6 L827.5,201.7 L829.5,200.9 L831.5,200.1 L833.5,199.3 L835.5,198.6 L837.5,197.9 L839.5,197.3 L841.5,196.6 L843.5,196.0 L845.5,195.5 L847.5,194.9 L849.5,194.4 L851.5,194.0 L853.5,193.5 L855.5,193.1 L857.5,192.7 L859.5,192.4 L861.5,192.1 L863.5,191.8 L865.5,191.6 L867.5,191.3 L869.5,191.1 L871.5,191.0 L873.5,190.8 L875.5,190.7 L877.5,190.7 L879.5,190.6 L881.5,190.6 L883.5,190.6 L885.5,190.7 L887.5,190.8 L889.5,190.9 L891.5,191.0 L893.5,191.2 L895.5,191.4 L897.5,191.7 L899.5,191.9 L901.5,192.2 L903.5,192.6 L905.5,192.9 L907.5,193.3 L909.5,193.7 L911.5,194.2 L913.5,194.7 L915.5,195.2 L917.5,195.8 L919.5,196.4 L921.5,197.0 L923.5,197.6 L925.5,198.3 L927.5,199.0 L929.5,199.8 L931.5,200.6 L933.5,201.4 L935.5,202.2 L937.5,203.1 L939.5,204.0 L941.5,204.9 L943.5,205.9 L945.5,206.9 L947.5,207.9 L949.5,209.0 L951.5,210.1 L953.5,211.2 L955.5,212.4 L957.5,213.6 L959.5,214.9 L961.5,216.2 L963.5,217.5 L965.5,218.9 L967.5,220.3 L969.5,221.8 L971.5,223.3 L973.5,224.9 L975.5,226.5 L977.5,228.2 L979.5,229.9 L981.5,231.7 L983.5,233.5 L985.5,235.4 L987.5,237.4 L989.5,239.4 L991.5,241.5 L993.5,243.7 L995.5,246.0 L997.5,248.3 L999.5,250.7 L1001.5,253.1 L1003.5,255.6 L1005.5,258.2 L1007.5,260.9 L1009.5,263.6 L1011.5,266.4 L1013.5,269.3 L1015.5,272.2 L1017.5,275.1 L1019.5,278.1 L1021.5,281.2 L1023.5,284.3 L1025.5,287.4 L1027.5,290.5 L1029.5,293.7 L1031.5,296.9 L1033.5,300.1 L1035.5,303.2 L1037.5,306.4 L1039.5,309.7 L1041.5,312.9 L1043.5,316.1 L1045.5,319.4 L1047.5,322.6 L1049.5,325.9 L1051.5,329.1 L1053.5,332.4 L1055.5,335.7 L1057.5,339.0 L1059.5,342.4 L1061.5,345.7 L1063.5,349.0 L1065.5,352.4 L1067.5,355.8 L1069.5,359.1 L1071.5,362.5 L1073.5,365.9 L1075.5,369.3 L1077.5,372.8 L1079.5,376.2 L1081.5,379.7 L1083.5,383.1 L1085.5,386.6 L1087.5,390.1 L1089.5,393.6 L1091.5,397.1 L1093.5,400.6 L1095.5,404.1 L1097.5,407.6 L1099.5,411.2 L1101.5,414.7 L1103.5,418.3 L1105.5,421.9 L1107.5,425.4 L1109.5,429.0 L1111.5,432.6 L1113.5,436.2 L1115.5,439.9 L1117.5,443.5 L1119.5,447.1 L1121.5,450.8 L1123.5,454.4 L1125.5,458.1 L1127.5,461.8 L1129.5,465.4 L1131.5,469.1 L1133.5,472.8 L1135.5,476.6 L1137.5,480.3 L1139.5,484.0 L1141.5,487.8 L1143.5,491.5 L1145.5,495.3 L1147.5,499.1 L1149.5,502.9 L1151.5,506.7 L1153.5,510.5 L1155.5,514.3 L1157.5,518.2 L1159.5,522.0 L1161.5,525.9 L1163.5,529.8 L1165.5,533.7 L1167.5,537.6 L1169.5,541.5 L1171.5,545.5 L1173.5,549.4 L1175.5,553.4 L1177.5,557.4 L1179.5,561.4 L1181.5,565.4 L1183.5,569.5 L1185.5,573.5 L1187.5,577.6 L1189.5,581.7 L1191.5,585.8 L1193.5,589.9 L1195.5,594.1 L1197.5,598.2 L1199.5,602.4 L1201.5,606.6 L1203.5,610.9 L1205.5,615.1 L1207.5,619.3 L1209.5,623.6 L1211.5,627.9 L1213.5,632.2 L1215.5,636.6 L1217.5,640.9 L1219.5,645.3 L1221.5,649.7 L1223.5,654.1 L1225.5,658.5 L1227.5,662.9 L1229.5,667.4 L1231.5,671.9 L1233.5,676.4 L1235.5,680.9 L1237.5,685.4 L1239.5,690.0 L1241.5,694.6 L1243.5,699.2 L1245.5,703.8 L1247.5,708.5 L1249.5,713.1 L1251.5,717.8 L1253.5,722.5 L1255.5,727.3 L1257.5,732.1 L1259.5,736.8 L1261.5,741.7 L1263.5,746.5 L1265.5,751.3 L1267.5,756.2 L1269.5,761.1 L1271.5,765.9 L1273.5,770.8 L1275.5,775.7 L1277.5,780.6 L1279.5,785.5 L1281.5,790.4 L1283.5,795.3 L1285.5,800.1 L1287.5,805.0 L1289.5,809.8 L1291.5,814.6 L1293.5,819.4 L1295.5,824.2 L1297.5,829.0 L1299.5,833.7 L1301.5,838.4 L1303.5,843.0 L1305.5,847.7 L1307.5,852.3 L1309.5,856.9 L1311.5,861.4 L1313.5,865.9 L1315.5,870.4 L1317.5,874.8 L1319.5,879.2 L1321.5,883.5 L1323.5,887.8 L1325.5,892.0 L1327.5,896.2 L1329.5,900.4 L1331.5,904.5 L1333.5,908.6 L1335.5,912.6 L1337.5,916.6 L1339.5,920.5 L1341.5,924.4 L1343.5,928.2 L1345.5,931.9 L1347.5,935.6 L1349.5,939.3 L1351.5,942.9 L1353.5,946.4 L1355.5,949.8 L1357.5,953.2 L1359.5,956.5 L1361.5,959.8 L1363.5,963.1 L1365.5,966.4 L1367.5,969.8 L1369.5,973.1 L1371.5,976.4 L1373.5,979.5 L1375.5,982.6 L1377.5,985.6 L1379.5,988.5 L1381.5,991.2 L1383.5,993.9 L1385.5,996.8 L1387.5,999.4 L1389.5,1001.9 L1391.5,1004.4 L1393.5,1006.9 L1395.5,1009.2 L1397.5,1011.6 L1399.5,1013.8 L1401.5,1016.0 L1403.5,1018.1 L1405.5,1020.2 L1407.5,1022.2 L1409.5,1024.1 L1411.5,1026.0 L1413.5,1027.8 L1415.5,1029.5 L1417.5,1031.2 L1419.5,1032.8 L1421.5,1034.3 L1423.5,1035.7 L1425.5,1037.1 L1427.5,1038.4 L1429.5,1039.7 L1431.5,1040.8 L1433.5,1042.0 L1435.5,1043.1 L1437.5,1044.1 L1439.5,1045.1 L1441.5,1046.2 L1443.5,1047.1 L1445.5,1048.1 L1447.5,1049.1 L1449.5,1050.1 L1451.5,1051.0 L1453.5,1051.9 L1455.5,1052.8 L1457.5,1053.7 L1459.5,1054.6 L1461.5,1055.5 L1463.5,1056.4 L1465.5,1057.3 L1467.5,1058.1 L1469.5,1059.0 L1471.5,1059.8 L1473.5,1060.6 L1475.5,1061.4 L1477.5,1062.2 L1479.5,1063.0 L1481.5,1063.7 L1483.5,1064.4 L1485.5,1065.2 L1487.5,1065.8 L1489.5,1066.5 L1491.5,1067.2 L1493.5,1067.8 L1495.5,1068.5 L1497.5,1069.1 L1499.5,1069.7 L1501.5,1070.3 L1503.5,1070.9 L1505.5,1071.5 L1507.5,1072.0 L1509.5,1072.6 L1511.5,1073.1 L1513.5,1073.6 L1515.5,1074.1 L1517.5,1074.6 L1519.5,1075.1 L1521.5,1075.6 L1523.5,1076.0 L1525.5,1076.4 L1527.5,1076.8 L1529.5,1077.1 L1531.5,1077.5 L1533.5,1077.9 L1535.5,1078.2 L1537.5,1078.5 L1539.5,1078.8 L1541.5,1079.1 L1543.5,1079.4 L1545.5,1079.6 L1547.5,1079.9 L1549.5,1080.1 L1551.5,1080.4 L1553.5,1080.6 L1555.5,1080.8 L1557.5,1081.0 L1559.5,1081.2 L1561.5,1081.4 L1563.5,1081.5 L1565.5,1081.7 L1567.5,1081.8 L1569.5,1082.0 L1571.5,1082.1 L1573.5,1082.3 L1575.5,1082.4 L1577.5,1082.5 L1579.5,1082.6 L1581.5,1082.8 L1583.5,1082.9 L1585.5,1083.0 L1587.5,1083.1 L1589.5,1083.2 L1591.5,1083.3 L1593.5,1083.3 L1595.5,1083.4 L1597.5,1083.5 L1599.5,1083.6 L1601.5,1083.7 L1603.5,1083.8 L1605.5,1083.9 L1607.5,1083.9 L1609.5,1084.0 L1611.5,1084.1 L1613.5,1084.2 L1615.5,1084.3 L1617.5,1084.4 L1619.5,1084.5 L1621.5,1084.5 L1623.5,1084.6 L1625.5,1084.7 L1627.5,1084.9 L1629.5,1085.0" stroke="#0000ff" stroke-width="5.8"/>
<path d="M195.5,899.7 L197.5,899.3 L199.5,898.7 L201.5,898.1 L203.5,897.5 L205.5,896.9 L207.5,896.3 L209.5,895.7 L211.5,895.0 L213.5,894.4 L215.5,893.7 L217.5,893.1 L219.5,892.4 L221.5,891.7 L223.5,891.0 L225.5,890.3 L227.5,889.6 L229.5,888.9 L231.5,888.2 L233.5,887.5 L235.5,886.8 L237.5,886.0 L239.5,885.3 L241.5,884.6 L243.5,883.9 L245.5,883.2 L247.5,882.4 L249.5,881.7 L251.5,881.0 L253.5,880.3 L255.5,879.6 L257.5,878.9 L259.5,878.2 L261.5,877.5 L263.5,876.8 L265.5,876.1 L267.5,875.5 L269.5,874.8 L271.5,874.2 L273.5,873.6 L275.5,873.0 L277.5,872.4 L279.5,871.8 L281.5,871.2 L283.5,870.6 L285.5,870.1 L287.5,869.5 L289.5,869.0 L291.5,868.4 L293.5,867.8 L295.5,867.3 L297.5,866.7 L299.5,866.1 L301.5,865.5 L303.5,864.9 L305.5,864.2 L307.5,863.5 L309.5,862.8 L311.5,862.1 L313.5,861.3 L315.5,860.5 L317.5,859.6 L319.5,858.7 L321.5,857.8 L323.5,856.7 L325.5,855.7 L327.5,854.5 L329.5,853.4 L331.5,852.2 L333.5,850.9 L335.5,849.6 L337.5,848.2 L339.5,846.8 L341.5,845.4 L343.5,843.9 L345.5,842.4 L347.5,840.8 L349.5,839.2 L351.5,837.6 L353.5,835.9 L355.5,834.2 L357.5,832.4 L359.5,830.6 L361.5,828.8 L363.5,826.9 L365.5,825.0 L367.5,823.1 L369.5,821.2 L371.5,819.2 L373.5,817.2 L375.5,815.1 L377.5,813.1 L379.5,811.0 L381.5,808.8 L383.5,806.7 L385.5,804.5 L387.5,802.3 L389.5,800.0 L391.5,797.8 L393.5,795.5 L395.5,793.1 L397.5,790.8 L399.5,788.4 L401.5,786.0 L403.5,783.5 L405.5,781.0 L407.5,778.5 L409.5,776.0 L411.5,773.5 L413.5,770.9 L415.5,768.3 L417.5,765.7 L419.5,763.0 L421.5,760.3 L423.5,757.6 L425.5,754.9 L427.5,752.2 L429.5,749.4 L431.5,746.7 L433.5,743.9 L435.5,741.1 L437.5,738.2 L439.5,735.4 L441.5,732.6 L443.5,729.7 L445.5,726.9 L447.5,724.0 L449.5,721.1 L451.5,718.2 L453.5,715.3 L455.5,712.3 L457.5,709.4 L459.5,706.5 L461.5,703.5 L463.5,700.5 L465.5,697.6 L467.5,694.6 L469.5,691.6 L471.5,688.6 L473.5,685.5 L475.5,682.5 L477.5,679.5 L479.5,676.4 L481.5,673.4 L483.5,670.3 L485.5,667.3 L487.5,664.2 L489.5,661.1 L491.5,658.0 L493.5,654.9 L495.5,651.8 L497.5,648.7 L499.5,645.6 L501.5,642.5 L503.5,639.4 L505.5,636.2 L507.5,633.1 L509.5,629.9 L511.5,626.8 L513.5,623.6 L515.5,620.4 L517.5,617.3 L519.5,614.1 L521.5,610.9 L523.5,607.7 L525.5,604.5 L527.5,601.3 L529.5,598.1 L531.5,594.8 L533.5,591.6 L535.5,588.4 L537.5,585.1 L539.5,581.9 L541.5,578.6 L543.5,575.3 L545.5,572.0 L547.5,568.8 L549.5,565.5 L551.5,562.2 L553.5,558.9 L555.5,555.6 L557.5,552.2 L559.5,548.9 L561.5,545.6 L563.5,542.3 L565.5,538.9 L567.5,535.6 L569.5,532.2 L571.5,528.9 L573.5,525.5 L575.5,522.2 L577.5,518.8 L579.5,515.4 L581.5,512.1 L583.5,508.7 L585.5,505.3 L587.5,502.0 L589.5,498.6 L591.5,495.2 L593.5,491.9 L595.5,488.5 L597.5,485.2 L599.5,481.8 L601.5,478.5 L603.5,475.1 L605.5,471.8 L607.5,468.4 L609.5,465.1 L611.5,461.8 L613.5,458.5 L615.5,455.1 L617.5,451.8 L619.5,448.5 L621.5,445.2 L623.5,442.0 L625.5,438.7 L627.5,435.4 L629.5,432.2 L631.5,428.9 L633.5,425.7 L635.5,422.5 L637.5,419.2 L639.5,416.0 L641.5,412.8 L643.5,409.7 L645.5,406.5 L647.5,403.3 L649.5,400.2 L651.5,397.1 L653.5,393.9 L655.5,390.8 L657.5,387.7 L659.5,384.6 L661.5,381.6 L663.5,378.5 L665.5,375.5 L667.5,372.4 L669.5,369.4 L671.5,366.4 L673.5,363.4 L675.5,360.4 L677.5,357.5 L679.5,354.5 L681.5,351.6 L683.5,348.7 L685.5,345.9 L687.5,343.1 L689.5,340.3 L691.5,337.5 L693.5,334.8 L695.5,332.1 L697.5,329.5 L699.5,326.9 L701.5,324.3 L703.5,321.8 L705.5,319.3 L707.5,316.8 L709.5,314.4 L711.5,312.0 L713.5,309.6 L715.5,307.2 L717.5,304.9 L719.5,302.6 L721.5,300.3 L723.5,298.0 L725.5,295.7 L727.5,293.4 L729.5,291.2 L731.5,288.9 L733.5,286.7 L735.5,284.5 L737.5,282.2 L739.5,280.0 L741.5,277.8 L743.5,275.6 L745.5,273.4 L747.5,271.2 L749.5,269.0 L751.5,266.8 L753.5,264.7 L755.5,262.6 L757.5,260.5 L759.5,258.4 L761.5,256.4 L763.5,254.4 L765.5,252.4 L767.5,250.5 L769.5,248.6 L771.5,246.7 L773.5,244.9 L775.5,243.1 L777.5,241.3 L779.5,239.6 L781.5,238.0 L783.5,236.3 L785.5,234.7 L787.5,233.2 L789.5,231.7 L791.5,230.2 L793.5,228.8 L795.5,227.4 L797.5,226.0 L799.5,224.7 L801.5,223.5 L803.5,222.2 L805.5,221.0 L807.5,219.8 L809.5,218.7 L811.5,217.6 L813.5,216.5 L815.5,215.5 L817.5,214.5 L819.5,213.5 L821.5,212.6 L823.5,211.6 L825.5,210.8 L827.5,209.9 L829.5,209.1 L831.5,208.3 L833.5,207.5 L835.5,206.8 L837.5,206.1 L839.5,205.5 L841.5,204.8 L843.5,204.2 L845.5,203.7 L847.5,203.2 L849.5,202.7 L851.5,202.2 L853.5,201.8 L855.5,201.3 L857.5,201.0 L859.5,200.6 L861.5,200.3 L863.5,200.0 L865.5,199.8 L867.5,199.6 L869.5,199.4 L871.5,199.2 L873.5,199.1 L875.5,199.0 L877.5,199.0 L879.5,198.9 L881.5,198.9 L883.5,199.0 L885.5,199.0 L887.5,199.1 L889.5,199.3 L891.5,199.4 L893.5,199.6 L895.5,199.8 L897.5,200.1 L899.5,200.4 L901.5,200.7 L903.5,201.0 L905.5,201.4 L907.5,201.9 L909.5,202.3 L911.5,202.8 L913.5,203.3 L915.5,203.9 L917.5,204.4 L919.5,205.1 L921.5,205.7 L923.5,206.4 L925.5,207.1 L927.5,207.9 L929.5,208.6 L931.5,209.4 L933.5,210.3 L935.5,211.2 L937.5,212.1 L939.5,213.0 L941.5,214.0 L943.5,215.0 L945.5,216.0 L947.5,217.1 L949.5,218.2 L951.5,219.4 L953.5,220.5 L955.5,221.8 L957.5,223.0 L959.5,224.3 L961.5,225.7 L963.5,227.0 L965.5,228.5 L967.5,229.9 L969.5,231.4 L971.5,233.0 L973.5,234.6 L975.5,236.3 L977.5,238.0 L979.5,239.8 L981.5,241.6 L983.5,243.5 L985.5,245.4 L987.5,247.5 L989.5,249.6 L991.5,251.7 L993.5,253.9 L995.5,256.2 L997.5,258.6 L999.5,261.0 L1001.5,263.5 L1003.5,266.1 L1005.5,268.7 L1007.5,271.4 L1009.5,274.2 L1011.5,277.0 L1013.5,279.9 L1015.5,282.8 L1017.5,285.8 L1019.5,288.9 L1021.5,291.9 L1023.5,295.1 L1025.5,298.2 L1027.5,301.4 L1029.5,304.6 L1031.5,307.8 L1033.5,311.0 L1035.5,314.2 L1037.5,317.4 L1039.5,320.6 L1041.5,323.9 L1043.5,327.1 L1045.5,330.4 L1047.5,333.6 L1049.5,336.9 L1051.5,340.2 L1053.5,343.5 L1055.5,346.8 L1057.5,350.1 L1059.5,353.4 L1061.5,356.7 L1063.5,360.1 L1065.5,363.4 L1067.5,366.8 L1069.5,370.2 L1071.5,373.5 L1073.5,376.9 L1075.5,380.3 L1077.5,383.7 L1079.5,387.2 L1081.5,390.6 L1083.5,394.0 L1085.5,397.5 L1087.5,400.9 L1089.5,404.4 L1091.5,407.9 L1093.5,411.4 L1095.5,414.9 L1097.5,418.4 L1099.5,421.9 L1101.5,425.4 L1103.5,428.9 L1105.5,432.5 L1107.5,436.0 L1109.5,439.6 L1111.5,443.1 L1113.5,446.7 L1115.5,450.3 L1117.5,453.8 L1119.5,457.4 L1121.5,461.0 L1123.5,464.7 L1125.5,468.3 L1127.5,471.9 L1129.5,475.5 L1131.5,479.2 L1133.5,482.8 L1135.5,486.5 L1137.5,490.2 L1139.5,493.8 L1141.5,497.5 L1143.5,501.2 L1145.5,505.0 L1147.5,508.7 L1149.5,512.4 L1151.5,516.2 L1153.5,519.9 L1155.5,523.7 L1157.5,527.5 L1159.5,531.3 L1161.5,535.1 L1163.5,538.9 L1165.5,542.8 L1167.5,546.6 L1169.5,550.5 L1171.5,554.4 L1173.5,558.3 L1175.5,562.2 L1177.5,566.1 L1179.5,570.1 L1181.5,574.1 L1183.5,578.1 L1185.5,582.1 L1187.5,586.1 L1189.5,590.1 L1191.5,594.2 L1193.5,598.2 L1195.5,602.3 L1197.5,606.4 L1199.5,610.6 L1201.5,614.7 L1203.5,618.9 L1205.5,623.1 L1207.5,627.3 L1209.5,631.5 L1211.5,635.7 L1213.5,640.0 L1215.5,644.2 L1217.5,648.5 L1219.5,652.8 L1221.5,657.2 L1223.5,661.5 L1225.5,665.9 L1227.5,670.2 L1229.5,674.6 L1231.5,679.0 L1233.5,683.5 L1235.5,687.9 L1237.5,692.4 L1239.5,696.9 L1241.5,701.4 L1243.5,705.9 L1245.5,710.5 L1247.5,715.0 L1249.5,719.6 L1251.5,724.2 L1253.5,728.9 L1255.5,733.5 L1257.5,738.2 L1259.5,742.9 L1261.5,747.6 L1263.5,752.4 L1265.5,757.1 L1267.5,761.9 L1269.5,766.7 L1271.5,771.5 L1273.5,776.2 L1275.5,781.0 L1277.5,785.8 L1279.5,790.6 L1281.5,795.4 L1283.5,800.2 L1285.5,805.0 L1287.5,809.7 L1289.5,814.5 L1291.5,819.2 L1293.5,823.9 L1295.5,828.6 L1297.5,833.2 L1299.5,837.9 L1301.5,842.5 L1303.5,847.1 L1305.5,851.6 L1307.5,856.1 L1309.5,860.6 L1311.5,865.1 L1313.5,869.5 L1315.5,873.9 L1317.5,878.3 L1319.5,882.6 L1321.5,886.8 L1323.5,891.0 L1325.5,895.2 L1327.5,899.3 L1329.5,903.4 L1331.5,907.5 L1333.5,911.5 L1335.5,915.4 L1337.5,919.4 L1339.5,923.2 L1341.5,927.1 L1343.5,930.8 L1345.5,934.5 L1347.5,938.2 L1349.5,941.8 L1351.5,945.3 L1353.5,948.7 L1355.5,952.1 L1357.5,955.4 L1359.5,958.6 L1361.5,961.8 L1363.5,965.1 L1365.5,968.3 L1367.5,971.6 L1369.5,974.8 L1371.5,978.0 L1373.5,981.0 L1375.5,984.0 L1377.5,986.9 L1379.5,989.8 L1381.5,992.4 L1383.5,995.1 L1385.5,997.9 L1387.5,1000.5 L1389.5,1003.0 L1391.5,1005.4 L1393.5,1007.8 L1395.5,1010.2 L1397.5,1012.4 L1399.5,1014.7 L1401.5,1016.8 L1403.5,1018.9 L1405.5,1020.9 L1407.5,1022.9 L1409.5,1024.8 L1411.5,1026.6 L1413.5,1028.4 L1415.5,1030.1 L1417.5,1031.7 L1419.5,1033.3 L1421.5,1034.8 L1423.5,1036.2 L1425.5,1037.5 L1427.5,1038.8 L1429.5,1040.0 L1431.5,1041.2 L1433.5,1042.3 L1435.5,1043.4 L1437.5,1044.4 L1439.5,1045.4 L1441.5,1046.4 L1443.5,1047.3 L1445.5,1048.3 L1447.5,1049.2 L1449.5,1050.2 L1451.5,1051.1 L1453.5,1052.0 L1455.5,1052.9 L1457.5,1053.8 L1459.5,1054.7 L1461.5,1055.5 L1463.5,1056.4 L1465.5,1057.2 L1467.5,1058.1 L1469.5,1058.9 L1471.5,1059.7 L1473.5,1060.5 L1475.5,1061.3 L1477.5,1062.1 L1479.5,1062.8 L1481.5,1063.5 L1483.5,1064.3 L1485.5,1064.9 L1487.5,1065.6 L1489.5,1066.3 L1491.5,1067.0 L1493.5,1067.6 L1495.5,1068.2 L1497.5,1068.8 L1499.5,1069.5 L1501.5,1070.0 L1503.5,1070.6 L1505.5,1071.2 L1507.5,1071.7 L1509.5,1072.3 L1511.5,1072.8 L1513.5,1073.3 L1515.5,1073.8 L1517.5,1074.3 L1519.5,1074.8 L1521.5,1075.2 L1523.5,1075.6 L1525.5,1076.0 L1527.5,1076.4 L1529.5,1076.8 L1531.5,1077.1 L1533.5,1077.5 L1535.5,1077.8 L1537.5,1078.1 L1539.5,1078.4 L1541.5,1078.7 L1543.5,1079.0 L1545.5,1079.3 L1547.5,1079.5 L1549.5,1079.7 L1551.5,1080.0 L1553.5,1080.2 L1555.5,1080.4 L1557.5,1080.6 L1559.5,1080.8 L1561.5,1081.0 L1563.5,1081.1 L1565.5,1081.3 L1567.5,1081.4 L1569.5,1081.6 L1571.5,1081.7 L1573.5,1081.9 L1575.5,1082.0 L1577.5,1082.1 L1579.5,1082.2 L1581.5,1082.3 L1583.5,1082.4 L1585.5,1082.5 L1587.5,1082.6 L1589.5,1082.7 L1591.5,1082.8 L1593.5,1082.9 L1595.5,1083.0 L1597.5,1083.1 L1599.5,1083.2 L1601.5,1083.2 L1603.5,1083.3 L1605.5,1083.4 L1607.5,1083.5 L1609.5,1083.6 L1611.5,1083.6 L1613.5,1083.7 L1615.5,1083.8 L1617.5,1083.9 L1619.5,1084.0 L1621.5,1084.1 L1623.5,1084.2 L1625.5,1084.3 L1627.5,1084.4 L1629.5,1084.5" stroke="#00ffff" stroke-width="5.8"/>
<path d="M195.5,901.9 L197.5,901.5 L199.5,900.9 L201.5,900.4 L203.5,899.8 L205.5,899.2 L207.5,898.6 L209.5,898.0 L211.5,897.4 L213.5,896.7 L215.5,896.1 L217.5,895.4 L219.5,894.8 L221.5,894.1 L223.5,893.4 L225.5,892.8 L227.5,892.1 L229.5,891.4 L231.5,890.7 L233.5,890.0 L235.5,889.3 L237.5,888.6 L239.5,887.9 L241.5,887.2 L243.5,886.5 L245.5,885.7 L247.5,885.0 L249.5,884.3 L251.5,883.6 L253.5,882.9 L255.5,882.2 L257.5,881.5 L259.5,880.9 L261.5,880.2 L263.5,879.5 L265.5,878.9 L267.5,878.2 L269.5,877.6 L271.5,877.0 L273.5,876.4 L275.5,875.8 L277.5,875.2 L279.5,874.6 L281.5,874.1 L283.5,873.6 L285.5,873.0 L287.5,872.5 L289.5,871.9 L291.5,871.4 L293.5,870.9 L295.5,870.3 L297.5,869.8 L299.5,869.2 L301.5,868.6 L303.5,868.0 L305.5,867.4 L307.5,866.8 L309.5,866.1 L311.5,865.4 L313.5,864.7 L315.5,863.9 L317.5,863.1 L319.5,862.2 L321.5,861.3 L323.5,860.3 L325.5,859.2 L327.5,858.2 L329.5,857.0 L331.5,855.9 L333.5,854.7 L335.5,853.4 L337.5,852.1 L339.5,850.7 L341.5,849.3 L343.5,847.9 L345.5,846.4 L347.5,844.9 L349.5,843.3 L351.5,841.7 L353.5,840.1 L355.5,838.4 L357.5,836.7 L359.5,835.0 L361.5,833.2 L363.5,831.4 L365.5,829.5 L367.5,827.7 L369.5,825.8 L371.5,823.9 L373.5,821.9 L375.5,819.9 L377.5,817.9 L379.5,815.9 L381.5,813.8 L383.5,811.7 L385.5,809.6 L387.5,807.4 L389.5,805.2 L391.5,803.0 L393.5,800.7 L395.5,798.5 L397.5,796.2 L399.5,793.9 L401.5,791.5 L403.5,789.1 L405.5,786.7 L407.5,784.3 L409.5,781.8 L411.5,779.3 L413.5,776.8 L415.5,774.3 L417.5,771.7 L419.5,769.2 L421.5,766.5 L423.5,763.9 L425.5,761.3 L427.5,758.6 L429.5,755.9 L431.5,753.2 L433.5,750.5 L435.5,747.7 L437.5,745.0 L439.5,742.2 L441.5,739.5 L443.5,736.7 L445.5,733.9 L447.5,731.0 L449.5,728.2 L451.5,725.4 L453.5,722.5 L455.5,719.7 L457.5,716.8 L459.5,713.9 L461.5,711.0 L463.5,708.1 L465.5,705.2 L467.5,702.2 L469.5,699.3 L471.5,696.4 L473.5,693.4 L475.5,690.4 L477.5,687.5 L479.5,684.5 L481.5,681.5 L483.5,678.5 L485.5,675.5 L487.5,672.5 L489.5,669.4 L491.5,666.4 L493.5,663.4 L495.5,660.3 L497.5,657.3 L499.5,654.2 L501.5,651.2 L503.5,648.1 L505.5,645.0 L507.5,641.9 L509.5,638.8 L511.5,635.7 L513.5,632.6 L515.5,629.5 L517.5,626.4 L519.5,623.3 L521.5,620.1 L523.5,617.0 L525.5,613.9 L527.5,610.7 L529.5,607.5 L531.5,604.4 L533.5,601.2 L535.5,598.0 L537.5,594.8 L539.5,591.6 L541.5,588.4 L543.5,585.2 L545.5,582.0 L547.5,578.8 L549.5,575.5 L551.5,572.3 L553.5,569.0 L555.5,565.8 L557.5,562.5 L559.5,559.2 L561.5,556.0 L563.5,552.7 L565.5,549.4 L567.5,546.1 L569.5,542.8 L571.5,539.5 L573.5,536.2 L575.5,532.9 L577.5,529.6 L579.5,526.3 L581.5,523.0 L583.5,519.7 L585.5,516.4 L587.5,513.0 L589.5,509.7 L591.5,506.4 L593.5,503.1 L595.5,499.8 L597.5,496.5 L599.5,493.2 L601.5,489.9 L603.5,486.6 L605.5,483.4 L607.5,480.1 L609.5,476.8 L611.5,473.5 L613.5,470.3 L615.5,467.0 L617.5,463.8 L619.5,460.6 L621.5,457.3 L623.5,454.1 L625.5,450.9 L627.5,447.7 L629.5,444.5 L631.5,441.4 L633.5,438.2 L635.5,435.0 L637.5,431.9 L639.5,428.8 L641.5,425.7 L643.5,422.6 L645.5,419.5 L647.5,416.4 L649.5,413.3 L651.5,410.3 L653.5,407.2 L655.5,404.2 L657.5,401.2 L659.5,398.2 L661.5,395.2 L663.5,392.2 L665.5,389.2 L667.5,386.3 L669.5,383.3 L671.5,380.4 L673.5,377.5 L675.5,374.6 L677.5,371.7 L679.5,368.9 L681.5,366.0 L683.5,363.3 L685.5,360.5 L687.5,357.7 L689.5,355.0 L691.5,352.4 L693.5,349.7 L695.5,347.1 L697.5,344.6 L699.5,342.0 L701.5,339.5 L703.5,337.1 L705.5,334.6 L707.5,332.3 L709.5,329.9 L711.5,327.5 L713.5,325.2 L715.5,322.9 L717.5,320.7 L719.5,318.4 L721.5,316.2 L723.5,313.9 L725.5,311.7 L727.5,309.5 L729.5,307.3 L731.5,305.1 L733.5,303.0 L735.5,300.8 L737.5,298.6 L739.5,296.5 L741.5,294.3 L743.5,292.2 L745.5,290.0 L747.5,287.9 L749.5,285.8 L751.5,283.6 L753.5,281.6 L755.5,279.5 L757.5,277.5 L759.5,275.5 L761.5,273.5 L763.5,271.5 L765.5,269.6 L767.5,267.7 L769.5,265.9 L771.5,264.0 L773.5,262.3 L775.5,260.5 L777.5,258.8 L779.5,257.2 L781.5,255.5 L783.5,253.9 L785.5,252.4 L787.5,250.9 L789.5,249.4 L791.5,248.0 L793.5,246.6 L795.5,245.2 L797.5,243.9 L799.5,242.6 L801.5,241.3 L803.5,240.1 L805.5,238.9 L807.5,237.8 L809.5,236.7 L811.5,235.6 L813.5,234.5 L815.5,233.5 L817.5,232.5 L819.5,231.5 L821.5,230.6 L823.5,229.7 L825.5,228.8 L827.5,228.0 L829.5,227.1 L831.5,226.4 L833.5,225.6 L835.5,224.9 L837.5,224.2 L839.5,223.5 L841.5,222.9 L843.5,222.3 L845.5,221.7 L847.5,221.2 L849.5,220.7 L851.5,220.2 L853.5,219.8 L855.5,219.4 L857.5,219.0 L859.5,218.6 L861.5,218.3 L863.5,218.0 L865.5,217.8 L867.5,217.5 L869.5,217.3 L871.5,217.2 L873.5,217.0 L875.5,216.9 L877.5,216.8 L879.5,216.8 L881.5,216.8 L883.5,216.8 L885.5,216.9 L887.5,217.0 L889.5,217.1 L891.5,217.2 L893.5,217.4 L895.5,217.6 L897.5,217.9 L899.5,218.1 L901.5,218.5 L903.5,218.8 L905.5,219.2 L907.5,219.6 L909.5,220.0 L911.5,220.5 L913.5,221.0 L915.5,221.6 L917.5,222.1 L919.5,222.7 L921.5,223.4 L923.5,224.0 L925.5,224.7 L927.5,225.5 L929.5,226.2 L931.5,227.0 L933.5,227.9 L935.5,228.7 L937.5,229.6 L939.5,230.5 L941.5,231.5 L943.5,232.5 L945.5,233.5 L947.5,234.5 L949.5,235.6 L951.5,236.7 L953.5,237.9 L955.5,239.1 L957.5,240.3 L959.5,241.6 L961.5,242.9 L963.5,244.2 L965.5,245.6 L967.5,247.0 L969.5,248.5 L971.5,250.0 L973.5,251.6 L975.5,253.2 L977.5,254.9 L979.5,256.6 L981.5,258.4 L983.5,260.2 L985.5,262.2 L987.5,264.1 L989.5,266.2 L991.5,268.3 L993.5,270.5 L995.5,272.7 L997.5,275.0 L999.5,277.4 L1001.5,279.8 L1003.5,282.3 L1005.5,284.9 L1007.5,287.6 L1009.5,290.3 L1011.5,293.1 L1013.5,295.9 L1015.5,298.8 L1017.5,301.7 L1019.5,304.7 L1021.5,307.7 L1023.5,310.8 L1025.5,313.9 L1027.5,317.0 L1029.5,320.1 L1031.5,323.2 L1033.5,326.4 L1035.5,329.5 L1037.5,332.7 L1039.5,335.9 L1041.5,339.0 L1043.5,342.2 L1045.5,345.4 L1047.5,348.6 L1049.5,351.8 L1051.5,355.1 L1053.5,358.3 L1055.5,361.6 L1057.5,364.8 L1059.5,368.1 L1061.5,371.3 L1063.5,374.6 L1065.5,377.9 L1067.5,381.2 L1069.5,384.6 L1071.5,387.9 L1073.5,391.2 L1075.5,394.6 L1077.5,397.9 L1079.5,401.3 L1081.5,404.7 L1083.5,408.0 L1085.5,411.4 L1087.5,414.8 L1089.5,418.2 L1091.5,421.7 L1093.5,425.1 L1095.5,428.5 L1097.5,432.0 L1099.5,435.4 L1101.5,438.9 L1103.5,442.4 L1105.5,445.8 L1107.5,449.3 L1109.5,452.8 L1111.5,456.3 L1113.5,459.8 L1115.5,463.3 L1117.5,466.9 L1119.5,470.4 L1121.5,473.9 L1123.5,477.5 L1125.5,481.0 L1127.5,484.6 L1129.5,488.2 L1131.5,491.7 L1133.5,495.3 L1135.5,498.9 L1137.5,502.5 L1139.5,506.2 L1141.5,509.8 L1143.5,513.4 L1145.5,517.1 L1147.5,520.7 L1149.5,524.4 L1151.5,528.1 L1153.5,531.7 L1155.5,535.4 L1157.5,539.2 L1159.5,542.9 L1161.5,546.6 L1163.5,550.4 L1165.5,554.2 L1167.5,557.9 L1169.5,561.7 L1171.5,565.6 L1173.5,569.4 L1175.5,573.2 L1177.5,577.1 L1179.5,581.0 L1181.5,584.9 L1183.5,588.8 L1185.5,592.7 L1187.5,596.7 L1189.5,600.6 L1191.5,604.6 L1193.5,608.6 L1195.5,612.7 L1197.5,616.7 L1199.5,620.8 L1201.5,624.8 L1203.5,628.9 L1205.5,633.0 L1207.5,637.2 L1209.5,641.3 L1211.5,645.5 L1213.5,649.6 L1215.5,653.8 L1217.5,658.0 L1219.5,662.3 L1221.5,666.5 L1223.5,670.8 L1225.5,675.1 L1227.5,679.4 L1229.5,683.7 L1231.5,688.0 L1233.5,692.3 L1235.5,696.7 L1237.5,701.1 L1239.5,705.5 L1241.5,709.9 L1243.5,714.3 L1245.5,718.8 L1247.5,723.3 L1249.5,727.7 L1251.5,732.2 L1253.5,736.8 L1255.5,741.3 L1257.5,745.9 L1259.5,750.5 L1261.5,755.1 L1263.5,759.7 L1265.5,764.4 L1267.5,769.0 L1269.5,773.7 L1271.5,778.3 L1273.5,783.0 L1275.5,787.7 L1277.5,792.4 L1279.5,797.0 L1281.5,801.7 L1283.5,806.4 L1285.5,811.0 L1287.5,815.6 L1289.5,820.3 L1291.5,824.9 L1293.5,829.5 L1295.5,834.0 L1297.5,838.6 L1299.5,843.1 L1301.5,847.6 L1303.5,852.1 L1305.5,856.5 L1307.5,860.9 L1309.5,865.3 L1311.5,869.7 L1313.5,874.0 L1315.5,878.3 L1317.5,882.6 L1319.5,886.8 L1321.5,891.0 L1323.5,895.1 L1325.5,899.2 L1327.5,903.2 L1329.5,907.2 L1331.5,911.2 L1333.5,915.1 L1335.5,919.0 L1337.5,922.9 L1339.5,926.7 L1341.5,930.4 L1343.5,934.1 L1345.5,937.8 L1347.5,941.3 L1349.5,944.8 L1351.5,948.3 L1353.5,951.6 L1355.5,954.9 L1357.5,958.1 L1359.5,961.2 L1361.5,964.4 L1363.5,967.5 L1365.5,970.7 L1367.5,973.8 L1369.5,976.9 L1371.5,980.0 L1373.5,982.9 L1375.5,985.8 L1377.5,988.6 L1379.5,991.4 L1381.5,994.0 L1383.5,996.6 L1385.5,999.3 L1387.5,1001.8 L1389.5,1004.3 L1391.5,1006.7 L1393.5,1009.0 L1395.5,1011.3 L1397.5,1013.5 L1399.5,1015.7 L1401.5,1017.8 L1403.5,1019.9 L1405.5,1021.9 L1407.5,1023.8 L1409.5,1025.6 L1411.5,1027.4 L1413.5,1029.1 L1415.5,1030.8 L1417.5,1032.4 L1419.5,1033.9 L1421.5,1035.4 L1423.5,1036.7 L1425.5,1038.0 L1427.5,1039.3 L1429.5,1040.5 L1431.5,1041.6 L1433.5,1042.7 L1435.5,1043.7 L1437.5,1044.7 L1439.5,1045.7 L1441.5,1046.7 L1443.5,1047.6 L1445.5,1048.5 L1447.5,1049.4 L1449.5,1050.3 L1451.5,1051.2 L1453.5,1052.1 L1455.5,1053.0 L1457.5,1053.8 L1459.5,1054.7 L1461.5,1055.5 L1463.5,1056.4 L1465.5,1057.2 L1467.5,1058.0 L1469.5,1058.8 L1471.5,1059.6 L1473.5,1060.3 L1475.5,1061.1 L1477.5,1061.9 L1479.5,1062.6 L1481.5,1063.3 L1483.5,1064.0 L1485.5,1064.7 L1487.5,1065.4 L1489.5,1066.0 L1491.5,1066.7 L1493.5,1067.3 L1495.5,1067.9 L1497.5,1068.5 L1499.5,1069.1 L1501.5,1069.7 L1503.5,1070.3 L1505.5,1070.8 L1507.5,1071.4 L1509.5,1071.9 L1511.5,1072.4 L1513.5,1072.9 L1515.5,1073.4 L1517.5,1073.9 L1519.5,1074.3 L1521.5,1074.7 L1523.5,1075.2 L1525.5,1075.6 L1527.5,1075.9 L1529.5,1076.3 L1531.5,1076.7 L1533.5,1077.0 L1535.5,1077.3 L1537.5,1077.7 L1539.5,1077.9 L1541.5,1078.2 L1543.5,1078.5 L1545.5,1078.8 L1547.5,1079.0 L1549.5,1079.2 L1551.5,1079.5 L1553.5,1079.7 L1555.5,1079.9 L1557.5,1080.1 L1559.5,1080.3 L1561.5,1080.4 L1563.5,1080.6 L1565.5,1080.8 L1567.5,1080.9 L1569.5,1081.1 L1571.5,1081.2 L1573.5,1081.3 L1575.5,1081.5 L1577.5,1081.6 L1579.5,1081.7 L1581.5,1081.8 L1583.5,1081.9 L1585.5,1082.0 L1587.5,1082.1 L1589.5,1082.2 L1591.5,1082.3 L1593.5,1082.4 L1595.5,1082.4 L1597.5,1082.5 L1599.5,1082.6 L1601.5,1082.7 L1603.5,1082.8 L1605.5,1082.8 L1607.5,1082.9 L1609.5,1083.0 L1611.5,1083.1 L1613.5,1083.2 L1615.5,1083.2 L1617.5,1083.3 L1619.5,1083.4 L1621.5,1083.5 L1623.5,1083.6 L1625.5,1083.7 L1627.5,1083.8 L1629.5,1083.9" stroke="#ff00ff" stroke-width="5.8"/>
<path d="M195.5,904.1 L197.5,903.7 L199.5,903.2 L201.5,902.6 L203.5,902.1 L205.5,901.5 L207.5,900.9 L209.5,900.3 L211.5,899.7 L213.5,899.1 L215.5,898.4 L217.5,897.8 L219.5,897.2 L221.5,896.5 L223.5,895.9 L225.5,895.2 L227.5,894.5 L229.5,893.9 L231.5,893.2 L233.5,892.5 L235.5,891.8 L237.5,891.1 L239.5,890.4 L241.5,889.7 L243.5,889.0 L245.5,888.3 L247.5,887.6 L249.5,887.0 L251.5,886.3 L253.5,885.6 L255.5,884.9 L257.5,884.2 L259.5,883.6 L261.5,882.9 L263.5,882.3 L265.5,881.6 L267.5,881.0 L269.5,880.4 L271.5,879.8 L273.5,879.2 L275.5,878.6 L277.5,878.1 L279.5,877.5 L281.5,877.0 L283.5,876.5 L285.5,876.0 L287.5,875.4 L289.5,874.9 L291.5,874.4 L293.5,873.9 L295.5,873.4 L297.5,872.9 L299.5,872.3 L301.5,871.8 L303.5,871.2 L305.5,870.6 L307.5,870.0 L309.5,869.4 L311.5,868.7 L313.5,868.0 L315.5,867.3 L317.5,866.5 L319.5,865.7 L321.5,864.8 L323.5,863.8 L325.5,862.8 L327.5,861.8 L329.5,860.7 L331.5,859.6 L333.5,858.4 L335.5,857.2 L337.5,855.9 L339.5,854.6 L341.5,853.3 L343.5,851.9 L345.5,850.5 L347.5,849.0 L349.5,847.5 L351.5,845.9 L353.5,844.3 L355.5,842.7 L357.5,841.0 L359.5,839.3 L361.5,837.6 L363.5,835.9 L365.5,834.1 L367.5,832.3 L369.5,830.4 L371.5,828.5 L373.5,826.6 L375.5,824.7 L377.5,822.7 L379.5,820.7 L381.5,818.7 L383.5,816.7 L385.5,814.6 L387.5,812.5 L389.5,810.4 L391.5,808.2 L393.5,806.0 L395.5,803.8 L397.5,801.6 L399.5,799.3 L401.5,797.0 L403.5,794.7 L405.5,792.4 L407.5,790.0 L409.5,787.6 L411.5,785.2 L413.5,782.8 L415.5,780.3 L417.5,777.8 L419.5,775.3 L421.5,772.8 L423.5,770.2 L425.5,767.6 L427.5,765.0 L429.5,762.4 L431.5,759.8 L433.5,757.1 L435.5,754.4 L437.5,751.7 L439.5,749.0 L441.5,746.3 L443.5,743.6 L445.5,740.9 L447.5,738.1 L449.5,735.4 L451.5,732.6 L453.5,729.8 L455.5,727.0 L457.5,724.2 L459.5,721.3 L461.5,718.5 L463.5,715.7 L465.5,712.8 L467.5,709.9 L469.5,707.0 L471.5,704.2 L473.5,701.3 L475.5,698.4 L477.5,695.4 L479.5,692.5 L481.5,689.6 L483.5,686.6 L485.5,683.7 L487.5,680.7 L489.5,677.8 L491.5,674.8 L493.5,671.8 L495.5,668.8 L497.5,665.8 L499.5,662.8 L501.5,659.8 L503.5,656.8 L505.5,653.8 L507.5,650.8 L509.5,647.7 L511.5,644.7 L513.5,641.7 L515.5,638.6 L517.5,635.5 L519.5,632.5 L521.5,629.4 L523.5,626.3 L525.5,623.2 L527.5,620.1 L529.5,617.0 L531.5,613.9 L533.5,610.8 L535.5,607.7 L537.5,604.5 L539.5,601.4 L541.5,598.2 L543.5,595.1 L545.5,591.9 L547.5,588.7 L549.5,585.5 L551.5,582.3 L553.5,579.1 L555.5,575.9 L557.5,572.7 L559.5,569.5 L561.5,566.2 L563.5,563.0 L565.5,559.8 L567.5,556.5 L569.5,553.3 L571.5,550.0 L573.5,546.7 L575.5,543.5 L577.5,540.2 L579.5,536.9 L581.5,533.7 L583.5,530.4 L585.5,527.1 L587.5,523.8 L589.5,520.6 L591.5,517.3 L593.5,514.0 L595.5,510.7 L597.5,507.5 L599.5,504.2 L601.5,500.9 L603.5,497.7 L605.5,494.4 L607.5,491.2 L609.5,487.9 L611.5,484.7 L613.5,481.4 L615.5,478.2 L617.5,475.0 L619.5,471.8 L621.5,468.6 L623.5,465.4 L625.5,462.2 L627.5,459.0 L629.5,455.9 L631.5,452.7 L633.5,449.6 L635.5,446.5 L637.5,443.3 L639.5,440.2 L641.5,437.1 L643.5,434.1 L645.5,431.0 L647.5,427.9 L649.5,424.9 L651.5,421.8 L653.5,418.8 L655.5,415.8 L657.5,412.8 L659.5,409.8 L661.5,406.8 L663.5,403.9 L665.5,400.9 L667.5,398.0 L669.5,395.1 L671.5,392.2 L673.5,389.3 L675.5,386.4 L677.5,383.5 L679.5,380.7 L681.5,377.9 L683.5,375.1 L685.5,372.4 L687.5,369.6 L689.5,366.9 L691.5,364.3 L693.5,361.6 L695.5,359.1 L697.5,356.5 L699.5,354.0 L701.5,351.5 L703.5,349.0 L705.5,346.6 L707.5,344.2 L709.5,341.9 L711.5,339.5 L713.5,337.2 L715.5,335.0 L717.5,332.7 L719.5,330.4 L721.5,328.2 L723.5,326.0 L725.5,323.8 L727.5,321.6 L729.5,319.4 L731.5,317.2 L733.5,315.1 L735.5,312.9 L737.5,310.8 L739.5,308.6 L741.5,306.5 L743.5,304.3 L745.5,302.2 L747.5,300.1 L749.5,298.0 L751.5,295.9 L753.5,293.8 L755.5,291.8 L757.5,289.8 L759.5,287.8 L761.5,285.8 L763.5,283.9 L765.5,282.0 L767.5,280.1 L769.5,278.3 L771.5,276.5 L773.5,274.8 L775.5,273.0 L777.5,271.3 L779.5,269.7 L781.5,268.1 L783.5,266.5 L785.5,265.0 L787.5,263.5 L789.5,262.0 L791.5,260.6 L793.5,259.2 L795.5,257.9 L797.5,256.6 L799.5,255.3 L801.5,254.1 L803.5,252.9 L805.5,251.7 L807.5,250.5 L809.5,249.4 L811.5,248.4 L813.5,247.3 L815.5,246.3 L817.5,245.3 L819.5,244.3 L821.5,243.4 L823.5,242.5 L825.5,241.6 L827.5,240.8 L829.5,240.0 L831.5,239.2 L833.5,238.4 L835.5,237.7 L837.5,237.0 L839.5,236.3 L841.5,235.7 L843.5,235.1 L845.5,234.5 L847.5,234.0 L849.5,233.4 L851.5,233.0 L853.5,232.5 L855.5,232.1 L857.5,231.7 L859.5,231.3 L861.5,231.0 L863.5,230.7 L865.5,230.5 L867.5,230.2 L869.5,230.0 L871.5,229.8 L873.5,229.7 L875.5,229.6 L877.5,229.5 L879.5,229.5 L881.5,229.4 L883.5,229.5 L885.5,229.5 L887.5,229.6 L889.5,229.7 L891.5,229.9 L893.5,230.0 L895.5,230.3 L897.5,230.5 L899.5,230.8 L901.5,231.1 L903.5,231.5 L905.5,231.9 L907.5,232.3 L909.5,232.7 L911.5,233.2 L913.5,233.8 L915.5,234.3 L917.5,234.9 L919.5,235.6 L921.5,236.2 L923.5,236.9 L925.5,237.7 L927.5,238.4 L929.5,239.2 L931.5,240.1 L933.5,240.9 L935.5,241.8 L937.5,242.8 L939.5,243.8 L941.5,244.8 L943.5,245.8 L945.5,246.9 L947.5,248.0 L949.5,249.2 L951.5,250.3 L953.5,251.6 L955.5,252.8 L957.5,254.1 L959.5,255.5 L961.5,256.9 L963.5,258.3 L965.5,259.8 L967.5,261.3 L969.5,262.9 L971.5,264.5 L973.5,266.2 L975.5,267.9 L977.5,269.7 L979.5,271.5 L981.5,273.4 L983.5,275.3 L985.5,277.4 L987.5,279.4 L989.5,281.6 L991.5,283.8 L993.5,286.1 L995.5,288.4 L997.5,290.8 L999.5,293.3 L1001.5,295.9 L1003.5,298.5 L1005.5,301.2 L1007.5,303.9 L1009.5,306.8 L1011.5,309.6 L1013.5,312.6 L1015.5,315.5 L1017.5,318.6 L1019.5,321.6 L1021.5,324.7 L1023.5,327.9 L1025.5,331.1 L1027.5,334.3 L1029.5,337.5 L1031.5,340.7 L1033.5,343.9 L1035.5,347.1 L1037.5,350.3 L1039.5,353.5 L1041.5,356.8 L1043.5,360.0 L1045.5,363.3 L1047.5,366.5 L1049.5,369.8 L1051.5,373.0 L1053.5,376.3 L1055.5,379.6 L1057.5,382.9 L1059.5,386.2 L1061.5,389.5 L1063.5,392.8 L1065.5,396.1 L1067.5,399.4 L1069.5,402.7 L1071.5,406.0 L1073.5,409.4 L1075.5,412.7 L1077.5,416.0 L1079.5,419.4 L1081.5,422.7 L1083.5,426.1 L1085.5,429.5 L1087.5,432.9 L1089.5,436.2 L1091.5,439.6 L1093.5,443.0 L1095.5,446.4 L1097.5,449.8 L1099.5,453.2 L1101.5,456.6 L1103.5,460.1 L1105.5,463.5 L1107.5,466.9 L1109.5,470.3 L1111.5,473.8 L1113.5,477.2 L1115.5,480.7 L1117.5,484.1 L1119.5,487.6 L1121.5,491.1 L1123.5,494.5 L1125.5,498.0 L1127.5,501.5 L1129.5,505.0 L1131.5,508.5 L1133.5,512.0 L1135.5,515.5 L1137.5,519.0 L1139.5,522.5 L1141.5,526.1 L1143.5,529.6 L1145.5,533.2 L1147.5,536.7 L1149.5,540.3 L1151.5,543.9 L1153.5,547.5 L1155.5,551.1 L1157.5,554.7 L1159.5,558.3 L1161.5,562.0 L1163.5,565.7 L1165.5,569.3 L1167.5,573.0 L1169.5,576.7 L1171.5,580.4 L1173.5,584.2 L1175.5,587.9 L1177.5,591.7 L1179.5,595.5 L1181.5,599.3 L1183.5,603.1 L1185.5,607.0 L1187.5,610.8 L1189.5,614.7 L1191.5,618.6 L1193.5,622.5 L1195.5,626.4 L1197.5,630.4 L1199.5,634.3 L1201.5,638.3 L1203.5,642.3 L1205.5,646.3 L1207.5,650.3 L1209.5,654.4 L1211.5,658.5 L1213.5,662.5 L1215.5,666.6 L1217.5,670.7 L1219.5,674.9 L1221.5,679.0 L1223.5,683.2 L1225.5,687.3 L1227.5,691.5 L1229.5,695.7 L1231.5,699.9 L1233.5,704.2 L1235.5,708.4 L1237.5,712.7 L1239.5,717.0 L1241.5,721.2 L1243.5,725.5 L1245.5,729.9 L1247.5,734.2 L1249.5,738.6 L1251.5,742.9 L1253.5,747.3 L1255.5,751.7 L1257.5,756.1 L1259.5,760.6 L1261.5,765.0 L1263.5,769.5 L1265.5,774.0 L1267.5,778.5 L1269.5,783.0 L1271.5,787.5 L1273.5,792.0 L1275.5,796.5 L1277.5,801.1 L1279.5,805.6 L1281.5,810.1 L1283.5,814.6 L1285.5,819.1 L1287.5,823.5 L1289.5,828.0 L1291.5,832.5 L1293.5,836.9 L1295.5,841.3 L1297.5,845.7 L1299.5,850.1 L1301.5,854.4 L1303.5,858.8 L1305.5,863.1 L1307.5,867.4 L1309.5,871.6 L1311.5,875.8 L1313.5,880.0 L1315.5,884.2 L1317.5,888.4 L1319.5,892.5 L1321.5,896.5 L1323.5,900.5 L1325.5,904.5 L1327.5,908.4 L1329.5,912.3 L1331.5,916.2 L1333.5,920.0 L1335.5,923.8 L1337.5,927.6 L1339.5,931.3 L1341.5,934.9 L1343.5,938.5 L1345.5,942.1 L1347.5,945.5 L1349.5,949.0 L1351.5,952.3 L1353.5,955.5 L1355.5,958.7 L1357.5,961.7 L1359.5,964.7 L1361.5,967.7 L1363.5,970.8 L1365.5,973.9 L1367.5,976.8 L1369.5,979.7 L1371.5,982.6 L1373.5,985.4 L1375.5,988.2 L1377.5,990.9 L1379.5,993.5 L1381.5,996.1 L1383.5,998.6 L1385.5,1001.1 L1387.5,1003.6 L1389.5,1006.0 L1391.5,1008.3 L1393.5,1010.6 L1395.5,1012.8 L1397.5,1015.0 L1399.5,1017.1 L1401.5,1019.2 L1403.5,1021.2 L1405.5,1023.1 L1407.5,1025.0 L1409.5,1026.8 L1411.5,1028.5 L1413.5,1030.1 L1415.5,1031.7 L1417.5,1033.3 L1419.5,1034.7 L1421.5,1036.1 L1423.5,1037.5 L1425.5,1038.7 L1427.5,1039.9 L1429.5,1041.1 L1431.5,1042.2 L1433.5,1043.2 L1435.5,1044.2 L1437.5,1045.2 L1439.5,1046.1 L1441.5,1047.0 L1443.5,1047.9 L1445.5,1048.8 L1447.5,1049.7 L1449.5,1050.6 L1451.5,1051.4 L1453.5,1052.3 L1455.5,1053.1 L1457.5,1053.9 L1459.5,1054.7 L1461.5,1055.5 L1463.5,1056.3 L1465.5,1057.1 L1467.5,1057.9 L1469.5,1058.7 L1471.5,1059.4 L1473.5,1060.2 L1475.5,1060.9 L1477.5,1061.6 L1479.5,1062.3 L1481.5,1063.0 L1483.5,1063.7 L1485.5,1064.3 L1487.5,1065.0 L1489.5,1065.6 L1491.5,1066.3 L1493.5,1066.9 L1495.5,1067.5 L1497.5,1068.1 L1499.5,1068.7 L1501.5,1069.2 L1503.5,1069.8 L1505.5,1070.3 L1507.5,1070.9 L1509.5,1071.4 L1511.5,1071.9 L1513.5,1072.3 L1515.5,1072.8 L1517.5,1073.3 L1519.5,1073.7 L1521.5,1074.1 L1523.5,1074.6 L1525.5,1074.9 L1527.5,1075.3 L1529.5,1075.7 L1531.5,1076.1 L1533.5,1076.4 L1535.5,1076.7 L1537.5,1077.0 L1539.5,1077.3 L1541.5,1077.6 L1543.5,1077.9 L1545.5,1078.1 L1547.5,1078.4 L1549.5,1078.6 L1551.5,1078.8 L1553.5,1079.0 L1555.5,1079.2 L1557.5,1079.4 L1559.5,1079.6 L1561.5,1079.8 L1563.5,1079.9 L1565.5,1080.1 L1567.5,1080.2 L1569.5,1080.4 L1571.5,1080.5 L1573.5,1080.6 L1575.5,1080.8 L1577.5,1080.9 L1579.5,1081.0 L1581.5,1081.1 L1583.5,1081.2 L1585.5,1081.3 L1587.5,1081.4 L1589.5,1081.5 L1591.5,1081.5 L1593.5,1081.6 L1595.5,1081.7 L1597.5,1081.8 L1599.5,1081.9 L1601.5,1081.9 L1603.5,1082.0 L1605.5,1082.1 L1607.5,1082.2 L1609.5,1082.2 L1611.5,1082.3 L1613.5,1082.4 L1615.5,1082.5 L1617.5,1082.5 L1619.5,1082.6 L1621.5,1082.7 L1623.5,1082.8 L1625.5,1082.9 L1627.5,1083.0 L1629.5,1083.1" stroke="#800080" stroke-width="5.8"/>
</g>
<g stroke-linecap="butt">
<line x1="195.5" y1="27.6" x2="195.5" y2="1114.2" stroke="#2b2b2b" stroke-width="5"/>
<line x1="1631.0" y1="27.6" x2="1631.0" y2="1093.25" stroke="#2b2b2b" stroke-width="5"/>
<line x1="186" y1="29.6" x2="1633.5" y2="29.6" stroke="#000" stroke-width="4.5"/>
<line x1="195.5" y1="1091.0" x2="1633.5" y2="1091.0" stroke="#000" stroke-width="4.5"/>
<line x1="185.5" y1="1025.9" x2="195.5" y2="1025.9" stroke="#000" stroke-width="4"/>
<line x1="176.3" y1="926.3" x2="195.5" y2="926.3" stroke="#000" stroke-width="4"/>
<line x1="185.5" y1="826.7" x2="195.5" y2="826.7" stroke="#000" stroke-width="4"/>
<line x1="176.3" y1="727.1" x2="195.5" y2="727.1" stroke="#000" stroke-width="4"/>
<line x1="185.5" y1="627.5" x2="195.5" y2="627.5" stroke="#000" stroke-width="4"/>
<line x1="176.3" y1="527.9" x2="195.5" y2="527.9" stroke="#000" stroke-width="4"/>
<line x1="185.5" y1="428.3" x2="195.5" y2="428.3" stroke="#000" stroke-width="4"/>
<line x1="176.3" y1="328.7" x2="195.5" y2="328.7" stroke="#000" stroke-width="4"/>
<line x1="185.5" y1="229.1" x2="195.5" y2="229.1" stroke="#000" stroke-width="4"/>
<line x1="176.3" y1="129.5" x2="195.5" y2="129.5" stroke="#000" stroke-width="4"/>
<line x1="376.5" y1="1091.0" x2="376.5" y2="1104.5" stroke="#2b2b2b" stroke-width="4.5"/>
<line x1="555.5" y1="1091.0" x2="555.5" y2="1114" stroke="#2b2b2b" stroke-width="4.5"/>
<line x1="733.7" y1="1091.0" x2="733.7" y2="1104.5" stroke="#2b2b2b" stroke-width="4.5"/>
<line x1="913.4" y1="1091.0" x2="913.4" y2="1114" stroke="#2b2b2b" stroke-width="4.5"/>
<line x1="1091.6" y1="1091.0" x2="1091.6" y2="1104.5" stroke="#2b2b2b" stroke-width="4.5"/>
<line x1="1271.4" y1="1091.0" x2="1271.4" y2="1114" stroke="#2b2b2b" stroke-width="4.5"/>
<line x1="1452.3" y1="1091.0" x2="1452.3" y2="1104.5" stroke="#2b2b2b" stroke-width="4.5"/>
<line x1="1631.0" y1="1091.0" x2="1631.0" y2="1114" stroke="#2b2b2b" stroke-width="4.5"/>
</g>
<text x="160.5" y="937.3" font-family="'Liberation Sans', Arial, sans-serif" font-size="44" text-anchor="end" fill="#1a1a1a">0.2</text>
<text x="160.5" y="738.1" font-family="'Liberation Sans', Arial, sans-serif" font-size="44" text-anchor="end" fill="#1a1a1a">0.4</text>
<text x="160.5" y="538.9" font-family="'Liberation Sans', Arial, sans-serif" font-size="44" text-anchor="end" fill="#1a1a1a">0.6</text>
<text x="160.5" y="339.7" font-family="'Liberation Sans', Arial, sans-serif" font-size="44" text-anchor="end" fill="#1a1a1a">0.8</text>
<text x="160.5" y="140.5" font-family="'Liberation Sans', Arial, sans-serif" font-size="44" text-anchor="end" fill="#1a1a1a">1.0</text>
<text x="196.5" y="1160" font-family="'Liberation Sans', Arial, sans-serif" font-size="44" text-anchor="middle" fill="#1a1a1a">360</text>
<text x="556.5" y="1160" font-family="'Liberation Sans', Arial, sans-serif" font-size="44" text-anchor="middle" fill="#1a1a1a">400</text>
<text x="914.4" y="1160" font-family="'Liberation Sans', Arial, sans-serif" font-size="44" text-anchor="middle" fill="#1a1a1a">440</text>
<text x="1272.4" y="1160" font-family="'Liberation Sans', Arial, sans-serif" font-size="44" text-anchor="middle" fill="#1a1a1a">480</text>
<text x="1632.0" y="1160" font-family="'Liberation Sans', Arial, sans-serif" font-size="44" text-anchor="middle" fill="#1a1a1a">520</text>
<text x="916" y="1211.5" font-family="'Liberation Sans', Arial, sans-serif" font-size="57.45" text-anchor="middle" fill="#111">Wavelength (nm)</text>
<text transform="translate(74.1,597.4) rotate(-90)" x="0" y="0" font-family="'Liberation Sans', Arial, sans-serif" font-size="58.1" text-anchor="middle" fill="#111">Absorbance (a.u.)</text>
<text x="231" y="101.3" font-family="'Liberation Sans', Arial, sans-serif" font-size="50" letter-spacing="0.8" fill="#000">RNO-ID assay</text>
<text x="223.9" y="1061" font-family="'Liberation Sans', Arial, sans-serif" font-size="78.4" font-weight="bold" fill="#000">A</text>
<line x1="1368" y1="107.9" x2="1467" y2="107.9" stroke="#000000" stroke-width="5.8"/>
<text x="1472.5" y="121.4" font-family="'Liberation Sans', Arial, sans-serif" font-size="39" letter-spacing="-0.7" fill="#1a1a1a">0 min</text>
<line x1="1368" y1="152.9" x2="1467" y2="152.9" stroke="#ff0000" stroke-width="5.8"/>
<text x="1472.5" y="166.4" font-family="'Liberation Sans', Arial, sans-serif" font-size="39" letter-spacing="-0.7" fill="#1a1a1a">5 min</text>
<line x1="1368" y1="197.8" x2="1467" y2="197.8" stroke="#00ff00" stroke-width="5.8"/>
<text x="1472.5" y="211.3" font-family="'Liberation Sans', Arial, sans-serif" font-size="39" letter-spacing="-0.7" fill="#1a1a1a">10 min</text>
<line x1="1368" y1="242.8" x2="1467" y2="242.8" stroke="#0000ff" stroke-width="5.8"/>
<text x="1472.5" y="256.3" font-family="'Liberation Sans', Arial, sans-serif" font-size="39" letter-spacing="-0.7" fill="#1a1a1a">15 min</text>
<line x1="1368" y1="287.8" x2="1467" y2="287.8" stroke="#00ffff" stroke-width="5.8"/>
<text x="1472.5" y="301.3" font-family="'Liberation Sans', Arial, sans-serif" font-size="39" letter-spacing="-0.7" fill="#1a1a1a">20 min</text>
<line x1="1368" y1="332.8" x2="1467" y2="332.8" stroke="#ff00ff" stroke-width="5.8"/>
<text x="1472.5" y="346.2" font-family="'Liberation Sans', Arial, sans-serif" font-size="39" letter-spacing="-0.7" fill="#1a1a1a">25 min</text>
<line x1="1368" y1="377.7" x2="1467" y2="377.7" stroke="#800080" stroke-width="5.8"/>
<text x="1472.5" y="391.2" font-family="'Liberation Sans', Arial, sans-serif" font-size="39" letter-spacing="-0.7" fill="#1a1a1a">30 min</text>
</g>
</svg>
</body></html>
